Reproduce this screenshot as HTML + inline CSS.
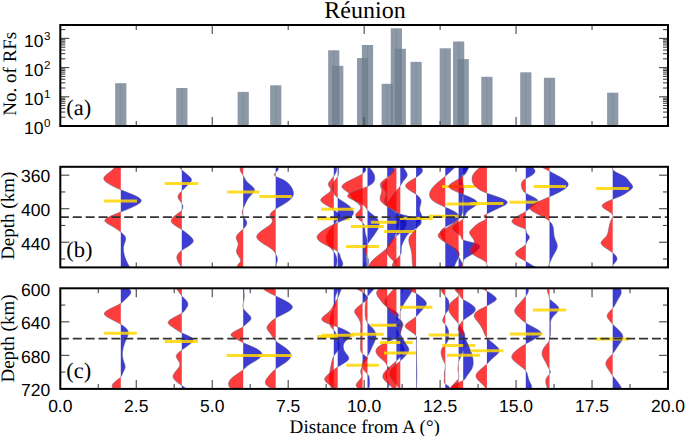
<!DOCTYPE html>
<html><head><meta charset="utf-8"><style>
html,body{margin:0;padding:0;background:#fff;width:685px;height:436px;overflow:hidden}
svg{display:block}
text{text-rendering:geometricPrecision}
</style></head><body>
<svg width="685" height="436" viewBox="0 0 685 436">
<rect x="115.17" y="83.20" width="11.20" height="42.80" fill="rgb(112,128,144)" fill-opacity="0.8"/>
<line x1="120.77" y1="83.20" x2="120.77" y2="126.00" stroke="rgb(112,128,144)" stroke-opacity="0.5" stroke-width="0.8"/>
<rect x="176.24" y="88.00" width="11.20" height="38.00" fill="rgb(112,128,144)" fill-opacity="0.8"/>
<line x1="181.84" y1="88.00" x2="181.84" y2="126.00" stroke="rgb(112,128,144)" stroke-opacity="0.5" stroke-width="0.8"/>
<rect x="237.62" y="91.90" width="11.20" height="34.10" fill="rgb(112,128,144)" fill-opacity="0.8"/>
<line x1="243.22" y1="91.90" x2="243.22" y2="126.00" stroke="rgb(112,128,144)" stroke-opacity="0.5" stroke-width="0.8"/>
<rect x="270.13" y="85.30" width="11.20" height="40.70" fill="rgb(112,128,144)" fill-opacity="0.8"/>
<line x1="275.73" y1="85.30" x2="275.73" y2="126.00" stroke="rgb(112,128,144)" stroke-opacity="0.5" stroke-width="0.8"/>
<rect x="328.17" y="50.30" width="11.20" height="75.70" fill="rgb(112,128,144)" fill-opacity="0.8"/>
<line x1="333.77" y1="50.30" x2="333.77" y2="126.00" stroke="rgb(112,128,144)" stroke-opacity="0.5" stroke-width="0.8"/>
<rect x="332.12" y="65.90" width="11.20" height="60.10" fill="rgb(112,128,144)" fill-opacity="0.8"/>
<line x1="337.72" y1="65.90" x2="337.72" y2="126.00" stroke="rgb(112,128,144)" stroke-opacity="0.5" stroke-width="0.8"/>
<rect x="357.03" y="58.10" width="11.20" height="67.90" fill="rgb(112,128,144)" fill-opacity="0.8"/>
<line x1="362.63" y1="58.10" x2="362.63" y2="126.00" stroke="rgb(112,128,144)" stroke-opacity="0.5" stroke-width="0.8"/>
<rect x="361.89" y="45.00" width="11.20" height="81.00" fill="rgb(112,128,144)" fill-opacity="0.8"/>
<line x1="367.49" y1="45.00" x2="367.49" y2="126.00" stroke="rgb(112,128,144)" stroke-opacity="0.5" stroke-width="0.8"/>
<rect x="381.64" y="83.80" width="11.20" height="42.20" fill="rgb(112,128,144)" fill-opacity="0.8"/>
<line x1="387.24" y1="83.80" x2="387.24" y2="126.00" stroke="rgb(112,128,144)" stroke-opacity="0.5" stroke-width="0.8"/>
<rect x="390.76" y="28.30" width="11.20" height="97.70" fill="rgb(112,128,144)" fill-opacity="0.8"/>
<line x1="396.36" y1="28.30" x2="396.36" y2="126.00" stroke="rgb(112,128,144)" stroke-opacity="0.5" stroke-width="0.8"/>
<rect x="394.71" y="48.80" width="11.20" height="77.20" fill="rgb(112,128,144)" fill-opacity="0.8"/>
<line x1="400.31" y1="48.80" x2="400.31" y2="126.00" stroke="rgb(112,128,144)" stroke-opacity="0.5" stroke-width="0.8"/>
<rect x="410.51" y="61.90" width="11.20" height="64.10" fill="rgb(112,128,144)" fill-opacity="0.8"/>
<line x1="416.11" y1="61.90" x2="416.11" y2="126.00" stroke="rgb(112,128,144)" stroke-opacity="0.5" stroke-width="0.8"/>
<rect x="439.68" y="48.30" width="11.20" height="77.70" fill="rgb(112,128,144)" fill-opacity="0.8"/>
<line x1="445.28" y1="48.30" x2="445.28" y2="126.00" stroke="rgb(112,128,144)" stroke-opacity="0.5" stroke-width="0.8"/>
<rect x="453.05" y="41.50" width="11.20" height="84.50" fill="rgb(112,128,144)" fill-opacity="0.8"/>
<line x1="458.65" y1="41.50" x2="458.65" y2="126.00" stroke="rgb(112,128,144)" stroke-opacity="0.5" stroke-width="0.8"/>
<rect x="457.61" y="59.10" width="11.20" height="66.90" fill="rgb(112,128,144)" fill-opacity="0.8"/>
<line x1="463.21" y1="59.10" x2="463.21" y2="126.00" stroke="rgb(112,128,144)" stroke-opacity="0.5" stroke-width="0.8"/>
<rect x="481.31" y="76.80" width="11.20" height="49.20" fill="rgb(112,128,144)" fill-opacity="0.8"/>
<line x1="486.91" y1="76.80" x2="486.91" y2="126.00" stroke="rgb(112,128,144)" stroke-opacity="0.5" stroke-width="0.8"/>
<rect x="520.20" y="72.30" width="11.20" height="53.70" fill="rgb(112,128,144)" fill-opacity="0.8"/>
<line x1="525.80" y1="72.30" x2="525.80" y2="126.00" stroke="rgb(112,128,144)" stroke-opacity="0.5" stroke-width="0.8"/>
<rect x="543.90" y="77.80" width="11.20" height="48.20" fill="rgb(112,128,144)" fill-opacity="0.8"/>
<line x1="549.50" y1="77.80" x2="549.50" y2="126.00" stroke="rgb(112,128,144)" stroke-opacity="0.5" stroke-width="0.8"/>
<rect x="607.10" y="92.70" width="11.20" height="33.30" fill="rgb(112,128,144)" fill-opacity="0.8"/>
<line x1="612.70" y1="92.70" x2="612.70" y2="126.00" stroke="rgb(112,128,144)" stroke-opacity="0.5" stroke-width="0.8"/>
<line x1="136.26" y1="25.00" x2="136.26" y2="30.00" stroke="#444" stroke-width="1.1"/>
<line x1="136.26" y1="121.00" x2="136.26" y2="126.00" stroke="#444" stroke-width="1.1"/>
<line x1="212.23" y1="25.00" x2="212.23" y2="34.00" stroke="#444" stroke-width="1.1"/>
<line x1="212.23" y1="117.00" x2="212.23" y2="126.00" stroke="#444" stroke-width="1.1"/>
<line x1="288.19" y1="25.00" x2="288.19" y2="30.00" stroke="#444" stroke-width="1.1"/>
<line x1="288.19" y1="121.00" x2="288.19" y2="126.00" stroke="#444" stroke-width="1.1"/>
<line x1="364.15" y1="25.00" x2="364.15" y2="34.00" stroke="#444" stroke-width="1.1"/>
<line x1="364.15" y1="117.00" x2="364.15" y2="126.00" stroke="#444" stroke-width="1.1"/>
<line x1="440.11" y1="25.00" x2="440.11" y2="30.00" stroke="#444" stroke-width="1.1"/>
<line x1="440.11" y1="121.00" x2="440.11" y2="126.00" stroke="#444" stroke-width="1.1"/>
<line x1="516.07" y1="25.00" x2="516.07" y2="34.00" stroke="#444" stroke-width="1.1"/>
<line x1="516.07" y1="117.00" x2="516.07" y2="126.00" stroke="#444" stroke-width="1.1"/>
<line x1="592.04" y1="25.00" x2="592.04" y2="30.00" stroke="#444" stroke-width="1.1"/>
<line x1="592.04" y1="121.00" x2="592.04" y2="126.00" stroke="#444" stroke-width="1.1"/>
<line x1="60.30" y1="126.00" x2="69.30" y2="126.00" stroke="#444" stroke-width="1.1"/>
<line x1="659.00" y1="126.00" x2="668.00" y2="126.00" stroke="#444" stroke-width="1.1"/>
<line x1="60.30" y1="117.21" x2="65.30" y2="117.21" stroke="#444" stroke-width="1.1"/>
<line x1="663.00" y1="117.21" x2="668.00" y2="117.21" stroke="#444" stroke-width="1.1"/>
<line x1="60.30" y1="112.07" x2="65.30" y2="112.07" stroke="#444" stroke-width="1.1"/>
<line x1="663.00" y1="112.07" x2="668.00" y2="112.07" stroke="#444" stroke-width="1.1"/>
<line x1="60.30" y1="108.42" x2="65.30" y2="108.42" stroke="#444" stroke-width="1.1"/>
<line x1="663.00" y1="108.42" x2="668.00" y2="108.42" stroke="#444" stroke-width="1.1"/>
<line x1="60.30" y1="105.59" x2="65.30" y2="105.59" stroke="#444" stroke-width="1.1"/>
<line x1="663.00" y1="105.59" x2="668.00" y2="105.59" stroke="#444" stroke-width="1.1"/>
<line x1="60.30" y1="103.28" x2="65.30" y2="103.28" stroke="#444" stroke-width="1.1"/>
<line x1="663.00" y1="103.28" x2="668.00" y2="103.28" stroke="#444" stroke-width="1.1"/>
<line x1="60.30" y1="101.32" x2="65.30" y2="101.32" stroke="#444" stroke-width="1.1"/>
<line x1="663.00" y1="101.32" x2="668.00" y2="101.32" stroke="#444" stroke-width="1.1"/>
<line x1="60.30" y1="99.63" x2="65.30" y2="99.63" stroke="#444" stroke-width="1.1"/>
<line x1="663.00" y1="99.63" x2="668.00" y2="99.63" stroke="#444" stroke-width="1.1"/>
<line x1="60.30" y1="98.14" x2="65.30" y2="98.14" stroke="#444" stroke-width="1.1"/>
<line x1="663.00" y1="98.14" x2="668.00" y2="98.14" stroke="#444" stroke-width="1.1"/>
<line x1="60.30" y1="96.80" x2="69.30" y2="96.80" stroke="#444" stroke-width="1.1"/>
<line x1="659.00" y1="96.80" x2="668.00" y2="96.80" stroke="#444" stroke-width="1.1"/>
<line x1="60.30" y1="88.01" x2="65.30" y2="88.01" stroke="#444" stroke-width="1.1"/>
<line x1="663.00" y1="88.01" x2="668.00" y2="88.01" stroke="#444" stroke-width="1.1"/>
<line x1="60.30" y1="82.87" x2="65.30" y2="82.87" stroke="#444" stroke-width="1.1"/>
<line x1="663.00" y1="82.87" x2="668.00" y2="82.87" stroke="#444" stroke-width="1.1"/>
<line x1="60.30" y1="79.22" x2="65.30" y2="79.22" stroke="#444" stroke-width="1.1"/>
<line x1="663.00" y1="79.22" x2="668.00" y2="79.22" stroke="#444" stroke-width="1.1"/>
<line x1="60.30" y1="76.39" x2="65.30" y2="76.39" stroke="#444" stroke-width="1.1"/>
<line x1="663.00" y1="76.39" x2="668.00" y2="76.39" stroke="#444" stroke-width="1.1"/>
<line x1="60.30" y1="74.08" x2="65.30" y2="74.08" stroke="#444" stroke-width="1.1"/>
<line x1="663.00" y1="74.08" x2="668.00" y2="74.08" stroke="#444" stroke-width="1.1"/>
<line x1="60.30" y1="72.12" x2="65.30" y2="72.12" stroke="#444" stroke-width="1.1"/>
<line x1="663.00" y1="72.12" x2="668.00" y2="72.12" stroke="#444" stroke-width="1.1"/>
<line x1="60.30" y1="70.43" x2="65.30" y2="70.43" stroke="#444" stroke-width="1.1"/>
<line x1="663.00" y1="70.43" x2="668.00" y2="70.43" stroke="#444" stroke-width="1.1"/>
<line x1="60.30" y1="68.94" x2="65.30" y2="68.94" stroke="#444" stroke-width="1.1"/>
<line x1="663.00" y1="68.94" x2="668.00" y2="68.94" stroke="#444" stroke-width="1.1"/>
<line x1="60.30" y1="67.60" x2="69.30" y2="67.60" stroke="#444" stroke-width="1.1"/>
<line x1="659.00" y1="67.60" x2="668.00" y2="67.60" stroke="#444" stroke-width="1.1"/>
<line x1="60.30" y1="58.81" x2="65.30" y2="58.81" stroke="#444" stroke-width="1.1"/>
<line x1="663.00" y1="58.81" x2="668.00" y2="58.81" stroke="#444" stroke-width="1.1"/>
<line x1="60.30" y1="53.67" x2="65.30" y2="53.67" stroke="#444" stroke-width="1.1"/>
<line x1="663.00" y1="53.67" x2="668.00" y2="53.67" stroke="#444" stroke-width="1.1"/>
<line x1="60.30" y1="50.02" x2="65.30" y2="50.02" stroke="#444" stroke-width="1.1"/>
<line x1="663.00" y1="50.02" x2="668.00" y2="50.02" stroke="#444" stroke-width="1.1"/>
<line x1="60.30" y1="47.19" x2="65.30" y2="47.19" stroke="#444" stroke-width="1.1"/>
<line x1="663.00" y1="47.19" x2="668.00" y2="47.19" stroke="#444" stroke-width="1.1"/>
<line x1="60.30" y1="44.88" x2="65.30" y2="44.88" stroke="#444" stroke-width="1.1"/>
<line x1="663.00" y1="44.88" x2="668.00" y2="44.88" stroke="#444" stroke-width="1.1"/>
<line x1="60.30" y1="42.92" x2="65.30" y2="42.92" stroke="#444" stroke-width="1.1"/>
<line x1="663.00" y1="42.92" x2="668.00" y2="42.92" stroke="#444" stroke-width="1.1"/>
<line x1="60.30" y1="41.23" x2="65.30" y2="41.23" stroke="#444" stroke-width="1.1"/>
<line x1="663.00" y1="41.23" x2="668.00" y2="41.23" stroke="#444" stroke-width="1.1"/>
<line x1="60.30" y1="39.74" x2="65.30" y2="39.74" stroke="#444" stroke-width="1.1"/>
<line x1="663.00" y1="39.74" x2="668.00" y2="39.74" stroke="#444" stroke-width="1.1"/>
<line x1="60.30" y1="38.40" x2="69.30" y2="38.40" stroke="#444" stroke-width="1.1"/>
<line x1="659.00" y1="38.40" x2="668.00" y2="38.40" stroke="#444" stroke-width="1.1"/>
<line x1="60.30" y1="29.61" x2="65.30" y2="29.61" stroke="#444" stroke-width="1.1"/>
<line x1="663.00" y1="29.61" x2="668.00" y2="29.61" stroke="#444" stroke-width="1.1"/>
<line x1="98.28" y1="288.30" x2="98.28" y2="293.30" stroke="#444" stroke-width="1.1"/>
<line x1="98.28" y1="383.90" x2="98.28" y2="388.90" stroke="#444" stroke-width="1.1"/>
<line x1="136.26" y1="166.80" x2="136.26" y2="171.80" stroke="#444" stroke-width="1.1"/>
<line x1="136.26" y1="262.40" x2="136.26" y2="267.40" stroke="#444" stroke-width="1.1"/>
<line x1="136.26" y1="288.30" x2="136.26" y2="297.30" stroke="#444" stroke-width="1.1"/>
<line x1="136.26" y1="379.90" x2="136.26" y2="388.90" stroke="#444" stroke-width="1.1"/>
<line x1="174.24" y1="288.30" x2="174.24" y2="293.30" stroke="#444" stroke-width="1.1"/>
<line x1="174.24" y1="383.90" x2="174.24" y2="388.90" stroke="#444" stroke-width="1.1"/>
<line x1="212.23" y1="166.80" x2="212.23" y2="171.80" stroke="#444" stroke-width="1.1"/>
<line x1="212.23" y1="262.40" x2="212.23" y2="267.40" stroke="#444" stroke-width="1.1"/>
<line x1="212.23" y1="288.30" x2="212.23" y2="297.30" stroke="#444" stroke-width="1.1"/>
<line x1="212.23" y1="379.90" x2="212.23" y2="388.90" stroke="#444" stroke-width="1.1"/>
<line x1="250.21" y1="288.30" x2="250.21" y2="293.30" stroke="#444" stroke-width="1.1"/>
<line x1="250.21" y1="383.90" x2="250.21" y2="388.90" stroke="#444" stroke-width="1.1"/>
<line x1="288.19" y1="166.80" x2="288.19" y2="171.80" stroke="#444" stroke-width="1.1"/>
<line x1="288.19" y1="262.40" x2="288.19" y2="267.40" stroke="#444" stroke-width="1.1"/>
<line x1="288.19" y1="288.30" x2="288.19" y2="297.30" stroke="#444" stroke-width="1.1"/>
<line x1="288.19" y1="379.90" x2="288.19" y2="388.90" stroke="#444" stroke-width="1.1"/>
<line x1="326.17" y1="288.30" x2="326.17" y2="293.30" stroke="#444" stroke-width="1.1"/>
<line x1="326.17" y1="383.90" x2="326.17" y2="388.90" stroke="#444" stroke-width="1.1"/>
<line x1="364.15" y1="166.80" x2="364.15" y2="171.80" stroke="#444" stroke-width="1.1"/>
<line x1="364.15" y1="262.40" x2="364.15" y2="267.40" stroke="#444" stroke-width="1.1"/>
<line x1="364.15" y1="288.30" x2="364.15" y2="297.30" stroke="#444" stroke-width="1.1"/>
<line x1="364.15" y1="379.90" x2="364.15" y2="388.90" stroke="#444" stroke-width="1.1"/>
<line x1="402.13" y1="288.30" x2="402.13" y2="293.30" stroke="#444" stroke-width="1.1"/>
<line x1="402.13" y1="383.90" x2="402.13" y2="388.90" stroke="#444" stroke-width="1.1"/>
<line x1="440.11" y1="166.80" x2="440.11" y2="171.80" stroke="#444" stroke-width="1.1"/>
<line x1="440.11" y1="262.40" x2="440.11" y2="267.40" stroke="#444" stroke-width="1.1"/>
<line x1="440.11" y1="288.30" x2="440.11" y2="297.30" stroke="#444" stroke-width="1.1"/>
<line x1="440.11" y1="379.90" x2="440.11" y2="388.90" stroke="#444" stroke-width="1.1"/>
<line x1="478.09" y1="288.30" x2="478.09" y2="293.30" stroke="#444" stroke-width="1.1"/>
<line x1="478.09" y1="383.90" x2="478.09" y2="388.90" stroke="#444" stroke-width="1.1"/>
<line x1="516.07" y1="166.80" x2="516.07" y2="171.80" stroke="#444" stroke-width="1.1"/>
<line x1="516.07" y1="262.40" x2="516.07" y2="267.40" stroke="#444" stroke-width="1.1"/>
<line x1="516.07" y1="288.30" x2="516.07" y2="297.30" stroke="#444" stroke-width="1.1"/>
<line x1="516.07" y1="379.90" x2="516.07" y2="388.90" stroke="#444" stroke-width="1.1"/>
<line x1="554.06" y1="288.30" x2="554.06" y2="293.30" stroke="#444" stroke-width="1.1"/>
<line x1="554.06" y1="383.90" x2="554.06" y2="388.90" stroke="#444" stroke-width="1.1"/>
<line x1="592.04" y1="166.80" x2="592.04" y2="171.80" stroke="#444" stroke-width="1.1"/>
<line x1="592.04" y1="262.40" x2="592.04" y2="267.40" stroke="#444" stroke-width="1.1"/>
<line x1="592.04" y1="288.30" x2="592.04" y2="297.30" stroke="#444" stroke-width="1.1"/>
<line x1="592.04" y1="379.90" x2="592.04" y2="388.90" stroke="#444" stroke-width="1.1"/>
<line x1="630.02" y1="288.30" x2="630.02" y2="293.30" stroke="#444" stroke-width="1.1"/>
<line x1="630.02" y1="383.90" x2="630.02" y2="388.90" stroke="#444" stroke-width="1.1"/>
<line x1="60.30" y1="175.18" x2="69.30" y2="175.18" stroke="#444" stroke-width="1.1"/>
<line x1="659.00" y1="175.18" x2="668.00" y2="175.18" stroke="#444" stroke-width="1.1"/>
<line x1="60.30" y1="191.95" x2="65.30" y2="191.95" stroke="#444" stroke-width="1.1"/>
<line x1="663.00" y1="191.95" x2="668.00" y2="191.95" stroke="#444" stroke-width="1.1"/>
<line x1="60.30" y1="208.72" x2="69.30" y2="208.72" stroke="#444" stroke-width="1.1"/>
<line x1="659.00" y1="208.72" x2="668.00" y2="208.72" stroke="#444" stroke-width="1.1"/>
<line x1="60.30" y1="225.48" x2="65.30" y2="225.48" stroke="#444" stroke-width="1.1"/>
<line x1="663.00" y1="225.48" x2="668.00" y2="225.48" stroke="#444" stroke-width="1.1"/>
<line x1="60.30" y1="242.25" x2="69.30" y2="242.25" stroke="#444" stroke-width="1.1"/>
<line x1="659.00" y1="242.25" x2="668.00" y2="242.25" stroke="#444" stroke-width="1.1"/>
<line x1="60.30" y1="259.02" x2="65.30" y2="259.02" stroke="#444" stroke-width="1.1"/>
<line x1="663.00" y1="259.02" x2="668.00" y2="259.02" stroke="#444" stroke-width="1.1"/>
<line x1="60.30" y1="305.07" x2="65.30" y2="305.07" stroke="#444" stroke-width="1.1"/>
<line x1="663.00" y1="305.07" x2="668.00" y2="305.07" stroke="#444" stroke-width="1.1"/>
<line x1="60.30" y1="321.83" x2="69.30" y2="321.83" stroke="#444" stroke-width="1.1"/>
<line x1="659.00" y1="321.83" x2="668.00" y2="321.83" stroke="#444" stroke-width="1.1"/>
<line x1="60.30" y1="338.60" x2="65.30" y2="338.60" stroke="#444" stroke-width="1.1"/>
<line x1="663.00" y1="338.60" x2="668.00" y2="338.60" stroke="#444" stroke-width="1.1"/>
<line x1="60.30" y1="355.37" x2="69.30" y2="355.37" stroke="#444" stroke-width="1.1"/>
<line x1="659.00" y1="355.37" x2="668.00" y2="355.37" stroke="#444" stroke-width="1.1"/>
<line x1="60.30" y1="372.13" x2="65.30" y2="372.13" stroke="#444" stroke-width="1.1"/>
<line x1="663.00" y1="372.13" x2="668.00" y2="372.13" stroke="#444" stroke-width="1.1"/>
<polygon points="120.8,166.8 114.8,166.8 114.1,168.1 112.8,169.6 111.3,170.8 106.8,174.3 105.2,175.8 104.5,176.6 104.1,177.3 103.8,178.1 103.7,178.6 103.9,179.6 104.5,180.6 105.8,181.8 107.5,183.1 110.0,184.6 113.7,186.6 117.3,188.3 120.8,189.8 120.8,211.8 120.6,212.1 112.4,215.3 108.1,217.3 106.4,218.3 105.5,219.1 105.0,219.8 104.8,220.6 104.9,221.1 105.3,221.8 106.7,223.1 108.3,224.1 112.7,226.6 115.6,228.3 118.5,230.3 120.8,232.1 120.8,267.4" fill="rgb(255,0,0)" fill-opacity="0.76"/>
<polygon points="120.8,166.8 120.8,189.8 132.1,194.3 135.0,195.6 137.0,196.6 139.1,197.8 140.3,198.8 141.1,199.8 141.2,200.3 141.3,200.8 141.1,201.6 140.3,202.6 139.1,203.6 137.1,204.8 134.2,206.3 130.4,208.1 120.8,212.1 120.8,231.8 120.8,232.1 123.1,234.1 124.7,235.8 125.5,237.3 125.7,238.6 125.7,239.3 125.6,240.3 124.1,244.6 123.6,246.8 123.5,249.6 123.8,252.6 124.5,255.8 125.8,259.3 127.5,263.1 129.8,267.4 120.8,267.4" fill="rgb(12,12,200)" fill-opacity="0.8"/>
<polyline points="114.8,166.8 114.1,168.1 112.8,169.6 111.3,170.8 106.5,174.6 105.4,175.6 104.5,176.6 104.0,177.6 103.7,178.6 103.9,179.6 104.5,180.6 105.8,181.8 107.9,183.3 110.9,185.1 114.7,187.1 120.8,189.8 132.7,194.6 137.0,196.6 138.7,197.6 140.0,198.6 140.9,199.6 141.2,200.1 141.3,200.6 141.3,201.1 141.1,201.6 140.3,202.6 138.7,203.8 136.6,205.1 132.6,207.1 128.1,209.1 113.6,214.8 109.6,216.6 107.6,217.6 106.1,218.6 105.1,219.6 104.8,220.3 104.8,220.8 105.0,221.3 105.3,221.8 106.1,222.6 108.3,224.1 114.8,227.8 118.9,230.6 121.4,232.6 123.1,234.1 124.3,235.3 125.2,236.6 125.6,237.8 125.7,238.6 125.7,239.3 125.3,241.1 124.1,244.6 123.7,246.6 123.5,249.3 123.7,252.1 124.4,255.3 125.6,258.8 127.3,262.8 129.8,267.4" fill="none" stroke="rgb(90,90,120)" stroke-width="0.6" stroke-opacity="0.8"/>
<line x1="103.90" y1="200.90" x2="137.00" y2="200.90" stroke="rgb(255,215,0)" stroke-opacity="0.85" stroke-width="3"/>
<polygon points="181.8,166.8 181.3,166.8 181.0,167.1 180.5,167.6 180.3,168.1 180.6,168.8 181.8,170.1 181.8,190.8 179.9,192.8 178.8,194.3 178.2,195.6 177.9,196.8 178.1,197.8 178.7,199.1 181.2,202.6 181.8,203.6 181.8,210.1 181.2,210.8 180.1,211.8 175.1,215.6 173.1,217.3 172.2,218.3 171.7,219.1 171.3,220.1 171.2,220.8 171.3,221.6 171.8,222.6 172.4,223.3 173.5,224.3 175.9,226.1 181.6,229.6 181.8,229.8 181.8,250.3 179.7,252.1 178.7,253.1 178.0,254.1 177.5,254.8 177.1,255.8 176.9,256.8 176.8,257.8 177.1,259.6 177.9,261.6 179.3,263.8 181.8,267.4" fill="rgb(255,0,0)" fill-opacity="0.76"/>
<polygon points="181.8,166.8 181.9,170.1 187.9,175.1 189.8,176.8 191.0,178.3 191.4,179.1 191.5,179.8 191.5,180.6 191.2,181.3 190.1,182.8 181.8,190.8 181.8,203.3 181.9,203.6 182.6,205.3 182.9,206.8 182.8,207.8 182.6,208.6 181.8,210.1 181.8,229.6 182.0,229.8 184.5,231.6 186.8,233.3 190.8,236.8 192.0,238.1 192.7,239.1 193.2,240.1 193.3,240.8 193.2,241.6 192.7,242.6 191.9,243.6 190.8,244.6 188.4,246.3 181.8,250.3 181.8,267.4" fill="rgb(12,12,200)" fill-opacity="0.8"/>
<polyline points="181.3,166.8 180.7,167.3 180.4,167.8 180.4,168.3 180.6,168.8 181.6,169.8 188.2,175.3 190.1,177.1 190.9,178.1 191.3,178.8 191.5,179.6 191.5,180.3 191.4,180.8 191.0,181.6 190.1,182.8 180.6,192.1 179.3,193.6 178.4,195.1 178.1,195.8 177.9,196.6 178.1,197.8 178.8,199.3 181.4,202.8 182.4,204.6 182.7,205.6 182.9,206.6 182.8,207.6 182.7,208.3 182.4,209.1 182.0,209.8 180.9,211.1 179.1,212.6 174.5,216.1 172.7,217.8 171.9,218.8 171.5,219.6 171.2,220.6 171.3,221.3 171.5,222.1 172.0,222.8 172.7,223.6 173.8,224.6 175.9,226.1 181.6,229.6 183.8,231.1 186.5,233.1 189.8,235.8 191.3,237.3 192.4,238.6 193.1,239.8 193.3,240.8 193.2,241.6 192.9,242.3 192.4,243.1 191.4,244.1 189.1,245.8 183.0,249.6 180.8,251.1 179.7,252.1 178.7,253.1 178.0,254.1 177.3,255.3 176.9,256.6 176.8,257.8 177.0,259.1 177.4,260.3 177.9,261.6 178.8,263.1 181.8,267.4" fill="none" stroke="rgb(90,90,120)" stroke-width="0.6" stroke-opacity="0.8"/>
<line x1="164.70" y1="183.50" x2="198.30" y2="183.50" stroke="rgb(255,215,0)" stroke-opacity="0.85" stroke-width="3"/>
<polygon points="243.2,166.8 241.2,166.8 240.8,167.3 240.3,168.1 240.1,168.6 240.0,169.3 240.1,170.3 240.6,171.6 243.2,175.6 243.2,208.3 242.4,210.8 242.2,212.6 242.3,213.3 242.5,214.3 243.2,216.1 243.2,228.8 243.2,229.1 239.3,232.6 237.6,234.3 236.9,235.3 236.5,236.1 236.3,236.8 236.2,237.6 236.2,238.3 236.5,239.3 238.0,242.8 238.2,244.3 238.2,245.1 237.9,246.1 236.5,250.1 236.4,251.1 236.5,252.1 236.8,253.1 237.2,254.1 239.5,257.6 240.1,258.8 240.5,259.8 240.6,260.6 240.5,261.3 240.2,262.1 237.7,265.1 237.4,265.8 237.4,266.3 237.6,266.8 238.2,267.4 243.2,267.4" fill="rgb(255,0,0)" fill-opacity="0.76"/>
<polygon points="243.2,166.8 243.2,175.6 245.4,179.6 246.4,181.1 248.0,182.8 251.8,186.1 253.4,187.6 253.9,188.3 254.4,189.1 254.6,189.8 254.6,190.3 254.4,191.3 253.6,192.6 249.7,196.6 248.7,197.8 247.7,199.3 246.7,201.1 245.5,203.6 243.2,208.6 243.2,216.1 246.2,220.6 246.7,221.8 246.9,223.1 246.6,224.3 245.9,225.8 244.8,227.3 243.2,229.1 243.2,267.4" fill="rgb(12,12,200)" fill-opacity="0.8"/>
<polyline points="241.2,166.8 240.4,167.8 240.2,168.3 240.0,169.1 240.1,170.3 240.7,171.8 243.2,175.6 245.4,179.6 246.4,181.1 248.0,182.8 251.8,186.1 253.4,187.6 253.9,188.3 254.4,189.1 254.6,189.8 254.6,190.3 254.4,191.3 253.8,192.3 252.9,193.3 249.5,196.8 248.3,198.3 247.4,199.8 246.2,202.1 244.2,206.3 243.0,209.1 242.4,210.8 242.3,211.8 242.2,212.8 242.4,213.8 242.7,214.8 243.5,216.6 246.0,220.3 246.7,221.8 246.8,222.6 246.8,223.3 246.7,224.1 246.5,224.8 245.6,226.3 244.2,228.1 239.3,232.6 237.8,234.1 236.8,235.6 236.3,236.8 236.2,237.8 236.4,238.8 237.9,242.6 238.2,243.6 238.2,244.3 238.2,245.1 237.9,246.1 236.5,250.1 236.4,251.1 236.5,252.1 236.8,253.1 237.2,254.1 240.0,258.6 240.4,259.6 240.6,260.3 240.5,261.3 240.2,262.1 239.6,262.8 238.0,264.6 237.5,265.6 237.4,266.1 237.5,266.6 237.8,267.1 238.2,267.4" fill="none" stroke="rgb(90,90,120)" stroke-width="0.6" stroke-opacity="0.8"/>
<line x1="227.20" y1="192.00" x2="259.30" y2="192.00" stroke="rgb(255,215,0)" stroke-opacity="0.85" stroke-width="3"/>
<polygon points="275.7,166.8 275.7,172.3 275.7,172.6 274.6,173.8 274.4,174.3 274.3,174.8 274.6,175.6 275.1,176.1 275.7,176.6 275.7,208.8 275.7,209.1 273.2,210.8 271.5,212.3 270.9,213.1 270.5,213.8 270.2,214.6 270.1,215.1 270.2,215.8 270.5,216.6 271.8,219.1 272.2,220.1 272.4,221.1 272.3,221.8 272.0,222.6 271.5,223.3 270.9,224.1 269.8,225.1 267.5,226.8 261.6,230.8 258.9,233.1 257.9,234.1 257.2,235.1 256.8,236.1 256.7,236.8 256.9,237.8 257.4,238.8 258.2,239.8 259.2,240.8 262.3,243.1 269.1,247.3 271.6,249.1 273.5,250.8 275.0,252.8 275.7,254.1 275.7,267.4" fill="rgb(255,0,0)" fill-opacity="0.76"/>
<polygon points="275.7,166.8 276.0,166.8 276.6,167.1 277.7,167.8 278.1,168.3 278.4,169.1 278.3,169.6 277.9,170.3 275.7,172.6 275.7,176.3 275.8,176.6 277.4,177.3 281.8,179.1 283.8,180.1 286.2,181.6 288.0,183.1 289.2,184.3 290.2,185.6 291.1,186.8 292.0,188.3 292.7,189.8 293.1,191.1 293.4,192.3 293.5,193.6 293.4,194.6 293.2,195.3 292.5,196.8 291.4,198.3 289.7,200.1 287.8,201.6 285.6,203.1 277.2,208.1 275.7,209.1 275.7,253.8 275.8,254.1 276.5,255.6 277.1,257.1 277.4,258.3 277.5,259.3 277.3,260.8 276.4,263.8 276.2,265.1 276.3,266.3 276.7,267.4 275.7,267.4" fill="rgb(12,12,200)" fill-opacity="0.8"/>
<polyline points="276.0,166.8 277.0,167.3 278.0,168.1 278.3,168.6 278.3,169.3 278.2,169.8 277.7,170.6 275.4,172.8 274.6,173.8 274.4,174.3 274.3,174.8 274.6,175.6 275.4,176.3 276.3,176.8 281.8,179.1 284.3,180.3 286.5,181.8 288.7,183.8 290.0,185.3 291.1,186.8 292.0,188.3 292.7,189.8 293.2,191.3 293.4,192.6 293.4,193.8 293.2,195.1 292.8,196.3 291.8,197.8 290.5,199.3 288.8,200.8 287.1,202.1 284.8,203.6 277.2,208.1 274.9,209.6 272.9,211.1 271.3,212.6 270.7,213.3 270.3,214.1 270.1,214.8 270.1,215.3 270.5,216.6 271.9,219.3 272.3,220.3 272.4,221.1 272.4,221.6 272.2,222.1 271.9,222.8 270.9,224.1 269.2,225.6 261.6,230.8 259.1,232.8 258.2,233.8 257.4,234.8 256.9,235.8 256.7,236.8 256.9,237.8 257.4,238.8 258.2,239.8 259.2,240.8 262.3,243.1 268.7,247.1 271.3,248.8 273.3,250.6 274.2,251.6 274.9,252.6 275.8,254.1 276.6,255.8 277.2,257.3 277.4,258.6 277.5,259.6 277.3,260.6 276.4,263.8 276.2,265.1 276.3,266.3 276.7,267.4" fill="none" stroke="rgb(90,90,120)" stroke-width="0.6" stroke-opacity="0.8"/>
<line x1="259.40" y1="196.40" x2="291.80" y2="196.40" stroke="rgb(255,215,0)" stroke-opacity="0.85" stroke-width="3"/>
<polygon points="333.8,166.8 333.8,176.1 333.7,176.3 329.1,182.1 328.5,183.1 328.3,184.1 328.3,184.8 328.5,185.6 330.1,188.1 330.6,189.1 330.8,189.8 330.6,190.6 330.0,191.6 328.8,192.8 323.6,196.6 322.0,197.8 321.0,199.1 320.8,199.6 320.7,200.1 320.8,200.6 321.1,201.3 321.8,202.1 322.7,202.8 324.5,204.1 329.0,206.8 333.8,210.1 333.7,225.1 330.0,229.6 328.9,231.1 327.9,232.6 327.2,234.1 326.6,235.6 326.3,237.1 326.2,238.6 326.2,240.1 326.5,241.3 327.0,242.8 327.7,244.1 329.2,246.3 333.7,251.6 333.8,267.4" fill="rgb(255,0,0)" fill-opacity="0.76"/>
<polygon points="333.8,166.8 336.8,166.8 336.9,168.3 336.8,170.1 336.2,171.8 335.3,173.8 333.8,176.3 333.8,209.8 333.8,210.1 336.8,212.1 338.7,213.6 339.4,214.3 339.7,214.8 339.9,215.3 340.0,216.1 339.7,217.1 339.1,218.3 333.8,225.1 333.8,251.6 335.2,253.8 336.2,256.1 336.8,258.3 337.1,260.8 337.0,262.3 336.7,264.1 336.3,265.8 335.8,267.4 333.8,267.4" fill="rgb(12,12,200)" fill-opacity="0.8"/>
<polyline points="336.8,166.8 336.9,168.3 336.8,169.8 336.4,171.3 335.7,173.1 334.7,174.8 333.5,176.6 329.1,182.1 328.7,182.8 328.4,183.6 328.2,184.6 328.4,185.3 329.0,186.3 330.3,188.3 330.6,189.1 330.8,190.1 330.5,190.8 329.8,191.8 328.8,192.8 323.6,196.6 322.0,197.8 321.0,199.1 320.8,199.6 320.7,200.1 320.8,200.6 321.1,201.3 322.4,202.6 324.1,203.8 329.4,207.1 337.2,212.3 338.9,213.8 339.5,214.6 339.9,215.3 340.0,216.1 339.8,216.8 339.5,217.6 338.9,218.6 334.5,224.1 330.2,229.3 328.2,232.1 327.4,233.6 326.8,235.1 326.4,236.6 326.2,237.8 326.2,239.3 326.4,240.8 326.8,242.3 327.5,243.8 329.0,246.1 332.9,250.6 334.3,252.3 335.5,254.3 336.4,256.6 336.9,259.1 337.0,260.3 337.0,261.8 336.6,264.6 335.8,267.4" fill="none" stroke="rgb(90,90,120)" stroke-width="0.6" stroke-opacity="0.8"/>
<line x1="317.20" y1="218.70" x2="350.20" y2="218.70" stroke="rgb(255,215,0)" stroke-opacity="0.85" stroke-width="3"/>
<polygon points="337.7,166.8 337.7,176.6 336.7,178.1 334.2,181.3 333.3,182.8 332.8,183.8 332.4,185.1 332.2,186.1 332.2,187.3 332.3,188.8 332.6,190.3 333.1,191.8 333.8,193.3 334.5,194.6 335.5,195.8 336.4,196.8 337.7,198.1 337.7,222.6 332.9,224.8 329.0,226.8 325.6,228.8 322.2,231.1 319.9,232.8 318.4,234.3 317.4,235.8 317.1,236.6 317.0,237.3 317.2,238.3 317.9,239.6 319.0,240.8 320.6,242.1 322.6,243.3 324.8,244.6 334.3,249.3 336.3,250.6 337.7,251.6 337.7,267.4" fill="rgb(255,0,0)" fill-opacity="0.76"/>
<polygon points="337.7,166.8 338.9,166.8 338.7,168.6 338.7,172.1 338.6,173.6 338.3,175.1 337.7,176.6 337.7,197.8 337.8,198.1 340.2,199.8 346.8,204.1 348.4,205.3 349.9,206.6 351.3,208.1 352.6,209.8 353.3,211.3 353.5,212.1 353.6,212.8 353.4,213.8 352.9,214.8 352.0,215.8 350.6,216.8 347.3,218.6 337.8,222.6 337.7,222.8 337.7,251.6 338.8,252.8 339.6,254.3 340.7,258.1 342.5,262.1 342.8,263.1 342.9,263.8 342.7,264.8 342.3,265.8 341.7,266.6 340.7,267.4 337.7,267.4" fill="rgb(12,12,200)" fill-opacity="0.8"/>
<polyline points="338.9,166.8 338.7,168.6 338.7,173.1 338.5,174.3 338.1,175.6 337.7,176.6 337.1,177.6 333.7,182.1 333.0,183.3 332.5,184.8 332.2,186.1 332.2,187.6 332.3,189.1 332.7,190.6 333.3,192.3 334.2,194.1 335.3,195.6 336.6,197.1 337.8,198.1 339.5,199.3 345.3,203.1 347.5,204.6 349.3,206.1 351.1,207.8 352.4,209.6 353.2,211.1 353.5,211.8 353.6,212.6 353.4,213.8 352.9,214.8 352.0,215.8 351.0,216.6 349.3,217.6 345.6,219.3 337.3,222.8 333.4,224.6 328.6,227.1 324.4,229.6 321.2,231.8 318.9,233.8 318.0,234.8 317.5,235.6 317.1,236.6 317.0,237.3 317.2,238.3 317.9,239.6 319.0,240.8 320.6,242.1 322.2,243.1 324.4,244.3 332.4,248.3 334.7,249.6 337.0,251.1 337.9,251.8 338.6,252.6 339.2,253.3 339.6,254.3 340.7,258.1 342.3,261.6 342.7,262.6 342.8,263.3 342.8,264.6 342.4,265.6 341.7,266.6 340.7,267.4" fill="none" stroke="rgb(90,90,120)" stroke-width="0.6" stroke-opacity="0.8"/>
<line x1="321.30" y1="209.20" x2="354.30" y2="209.20" stroke="rgb(255,215,0)" stroke-opacity="0.85" stroke-width="3"/>
<polygon points="362.6,166.8 362.6,173.6 362.5,173.8 360.5,175.1 358.2,176.3 348.5,181.1 345.3,182.8 343.9,183.8 342.8,184.8 342.1,185.8 341.9,186.6 342.0,187.3 342.7,188.3 344.0,189.6 347.5,192.1 348.9,193.3 349.9,194.6 351.6,197.6 352.5,198.8 354.0,200.3 357.6,203.1 359.0,204.3 360.0,205.6 360.5,206.6 360.6,207.8 360.4,208.6 360.1,209.3 359.2,210.6 356.3,213.6 355.7,214.6 355.6,215.3 355.9,216.3 356.8,217.6 358.1,218.8 361.8,221.8 362.6,222.6 362.6,222.8 362.6,267.4" fill="rgb(255,0,0)" fill-opacity="0.76"/>
<polygon points="362.6,166.8 364.1,166.8 364.5,167.1 365.0,167.6 365.6,168.3 365.8,168.8 365.9,169.6 365.7,170.6 365.1,171.6 364.1,172.6 362.6,173.8 362.6,222.6 363.9,224.3 364.4,225.3 364.7,226.3 364.9,227.8 365.0,231.1 365.2,232.6 365.5,234.1 366.8,238.8 367.0,240.1 367.1,241.6 367.0,243.8 366.2,249.1 366.1,251.6 366.2,254.8 366.8,262.8 366.8,265.3 366.6,267.4 362.6,267.4" fill="rgb(12,12,200)" fill-opacity="0.8"/>
<polyline points="364.1,166.8 364.7,167.3 365.4,168.1 365.8,168.8 365.9,169.6 365.8,170.3 365.4,171.1 364.9,171.8 364.1,172.6 362.1,174.1 359.6,175.6 356.2,177.3 348.5,181.1 344.9,183.1 343.6,184.1 342.5,185.1 342.0,186.1 341.9,186.8 342.0,187.3 342.3,187.8 343.1,188.8 344.4,189.8 347.8,192.3 348.9,193.3 349.9,194.6 351.6,197.6 352.5,198.8 354.0,200.3 357.6,203.1 359.0,204.3 360.0,205.6 360.5,206.6 360.6,207.8 360.4,208.6 360.1,209.3 359.2,210.6 356.3,213.6 355.7,214.6 355.6,215.1 355.6,215.6 356.0,216.6 357.0,217.8 358.4,219.1 361.8,221.8 363.0,223.1 363.6,223.8 364.2,224.8 364.7,226.6 364.9,228.1 365.0,231.1 365.2,232.6 365.6,234.3 366.8,238.6 367.0,239.8 367.1,241.1 367.0,243.6 366.2,249.1 366.1,251.6 366.2,254.8 366.8,262.8 366.8,265.3 366.6,267.4" fill="none" stroke="rgb(90,90,120)" stroke-width="0.6" stroke-opacity="0.8"/>
<line x1="346.00" y1="246.60" x2="379.00" y2="246.60" stroke="rgb(255,215,0)" stroke-opacity="0.85" stroke-width="3"/>
<polygon points="367.5,166.8 367.5,186.3 367.4,186.6 363.7,188.1 354.7,191.3 351.1,192.8 349.3,193.8 348.2,194.6 347.6,195.3 347.5,196.1 347.6,196.6 348.0,197.1 348.6,197.6 349.7,198.3 351.7,199.3 359.4,202.8 361.7,204.1 363.3,205.1 364.3,205.8 365.3,206.8 367.5,210.1 367.5,243.8 367.5,244.1 366.0,246.1 365.1,247.6 364.6,248.8 364.5,250.1 364.6,251.1 365.1,252.3 367.2,256.1 367.5,256.8 367.5,267.4" fill="rgb(255,0,0)" fill-opacity="0.76"/>
<polygon points="367.5,166.8 368.5,166.8 370.9,169.3 372.6,171.6 373.6,173.3 374.3,174.8 374.7,176.6 374.8,178.1 374.7,179.3 374.4,180.6 373.8,181.8 373.0,182.8 372.0,183.8 371.0,184.6 369.8,185.3 367.5,186.6 367.5,210.1 369.2,211.8 375.0,216.6 377.0,218.6 377.9,219.8 378.6,221.3 379.0,222.6 379.1,224.1 379.0,225.6 378.6,227.3 377.9,229.1 376.8,231.1 374.2,235.1 367.5,244.1 367.5,256.6 368.3,259.1 368.5,260.3 368.5,261.6 368.2,264.3 367.5,267.4" fill="rgb(12,12,200)" fill-opacity="0.8"/>
<polyline points="368.5,166.8 370.5,168.8 372.1,170.8 373.4,172.8 374.3,174.8 374.7,176.8 374.8,178.8 374.4,180.6 373.6,182.1 372.8,183.1 371.7,184.1 370.2,185.1 368.9,185.8 365.0,187.6 354.7,191.3 351.1,192.8 349.7,193.6 348.5,194.3 347.8,195.1 347.5,195.8 347.5,196.3 348.0,197.1 348.6,197.6 349.7,198.3 351.7,199.3 359.9,203.1 362.5,204.6 364.3,205.8 365.5,207.1 367.3,209.8 368.4,211.1 370.4,212.8 374.7,216.3 376.5,218.1 377.4,219.1 378.0,220.1 378.5,221.1 378.9,222.1 379.1,223.8 379.0,225.8 378.4,227.8 377.4,230.1 376.2,232.1 374.5,234.6 366.2,245.8 365.3,247.3 364.6,248.8 364.5,250.1 364.8,251.6 365.5,253.1 367.5,256.8 368.0,258.1 368.4,259.6 368.5,261.3 368.4,263.1 368.1,265.1 367.5,267.4" fill="none" stroke="rgb(90,90,120)" stroke-width="0.6" stroke-opacity="0.8"/>
<line x1="350.80" y1="226.60" x2="383.80" y2="226.60" stroke="rgb(255,215,0)" stroke-opacity="0.85" stroke-width="3"/>
<polygon points="387.2,166.8 387.2,177.3 387.2,177.6 384.0,179.8 382.2,181.3 380.9,182.8 380.5,183.6 380.4,184.1 380.3,184.8 380.4,185.8 381.6,189.3 381.8,190.8 381.6,192.3 380.3,196.6 380.1,198.3 380.2,199.3 380.5,200.3 380.8,201.1 381.6,202.1 383.4,203.8 385.0,205.1 387.2,206.6 387.2,206.8 387.2,247.8 387.2,248.1 385.5,249.6 376.6,256.6 374.5,258.3 372.7,260.1 371.0,262.1 369.7,263.8 368.8,265.6 368.2,267.4 387.2,267.4" fill="rgb(255,0,0)" fill-opacity="0.76"/>
<polygon points="387.2,166.8 392.2,166.8 393.2,167.6 393.9,168.3 394.3,169.1 394.4,170.1 394.3,170.8 394.0,171.6 393.5,172.3 392.7,173.3 390.7,175.1 387.2,177.6 387.2,206.6 393.7,210.8 395.6,212.3 396.8,213.6 397.9,215.1 398.7,216.8 399.1,218.6 399.3,220.6 399.2,222.1 399.0,223.6 398.2,226.8 396.3,232.8 394.7,237.1 393.1,240.3 391.4,243.1 389.6,245.6 387.2,248.1 387.2,267.4" fill="rgb(12,12,200)" fill-opacity="0.8"/>
<polyline points="392.2,166.8 392.9,167.3 393.7,168.1 394.0,168.6 394.3,169.3 394.4,169.8 394.4,170.6 394.1,171.3 393.7,172.1 392.7,173.3 391.0,174.8 384.7,179.3 382.7,180.8 381.3,182.3 380.5,183.6 380.3,184.6 380.4,185.6 380.6,186.6 381.6,189.3 381.8,190.8 381.5,192.6 380.2,197.1 380.1,198.1 380.1,199.1 380.5,200.3 381.0,201.3 381.8,202.3 383.1,203.6 386.0,205.8 391.9,209.6 394.0,211.1 395.9,212.6 397.4,214.3 398.0,215.3 398.6,216.6 399.0,217.8 399.2,219.1 399.3,220.6 399.2,222.1 398.6,225.3 398.0,227.6 397.0,230.8 395.0,236.3 393.1,240.3 392.1,242.1 390.9,243.8 388.9,246.3 386.6,248.6 384.0,250.8 376.6,256.6 374.5,258.3 372.7,260.1 371.0,262.1 369.7,263.8 368.8,265.6 368.2,267.4" fill="none" stroke="rgb(90,90,120)" stroke-width="0.6" stroke-opacity="0.8"/>
<line x1="370.90" y1="222.30" x2="403.90" y2="222.30" stroke="rgb(255,215,0)" stroke-opacity="0.85" stroke-width="3"/>
<polygon points="396.4,166.8 393.9,169.8 389.9,175.6 388.2,177.8 383.4,183.3 382.7,184.6 382.4,185.3 382.4,185.8 382.4,186.6 382.8,187.6 383.5,188.6 385.7,191.6 386.2,192.6 386.4,193.3 386.4,194.3 386.2,195.3 384.7,198.8 384.3,200.1 384.3,200.8 384.3,201.6 384.5,202.3 385.0,203.3 385.4,204.1 386.2,205.1 387.2,206.1 388.4,207.1 391.0,208.8 396.4,212.1 396.4,235.8 396.3,236.1 394.3,237.8 392.3,239.8 390.8,241.6 389.3,243.6 388.0,245.6 387.1,247.6 386.6,249.3 386.5,250.8 386.6,252.1 386.9,253.1 387.3,254.1 388.1,255.3 390.0,257.6 394.6,262.3 395.9,264.1 396.4,265.1 396.4,267.4" fill="rgb(255,0,0)" fill-opacity="0.76"/>
<polygon points="396.4,166.8 396.4,211.8 396.4,212.1 399.2,213.8 401.7,215.6 403.2,216.8 404.2,217.8 405.2,219.1 405.8,220.3 406.2,221.6 406.4,223.1 406.3,224.6 405.8,226.3 405.0,227.8 404.0,229.3 402.6,230.8 401.3,232.1 396.4,236.1 396.4,264.8 396.6,266.3 396.4,267.4" fill="rgb(12,12,200)" fill-opacity="0.8"/>
<polyline points="396.4,166.8 393.9,169.8 389.9,175.6 388.2,177.8 383.4,183.3 382.7,184.6 382.4,185.3 382.4,185.8 382.4,186.6 382.8,187.6 383.5,188.6 385.7,191.6 386.2,192.6 386.4,193.3 386.4,194.3 386.2,195.3 384.7,198.8 384.3,200.3 384.3,201.1 384.5,202.1 384.8,203.1 385.4,204.1 386.9,205.8 389.1,207.6 391.4,209.1 398.8,213.6 401.0,215.1 402.6,216.3 404.2,217.8 405.2,219.1 405.8,220.3 406.3,221.8 406.4,223.6 406.1,225.3 405.4,227.1 404.3,228.8 403.1,230.3 401.9,231.6 395.1,237.1 393.2,238.8 391.6,240.6 389.8,242.8 388.3,245.1 387.3,247.1 386.6,249.1 386.5,250.3 386.5,251.6 386.8,252.8 387.3,254.1 388.1,255.3 389.3,256.8 394.1,261.8 395.6,263.6 396.2,264.6 396.5,265.6 396.6,266.6 396.4,267.4" fill="none" stroke="rgb(90,90,120)" stroke-width="0.6" stroke-opacity="0.8"/>
<polygon points="400.3,166.8 400.3,186.1 398.7,188.1 395.1,192.1 393.7,193.8 390.2,198.8 387.5,202.3 386.9,203.3 386.7,204.3 386.8,205.1 387.1,205.8 387.6,206.3 388.5,207.1 390.1,208.1 394.6,210.6 397.8,212.8 400.3,214.1 400.3,255.1 399.0,256.6 395.3,260.1 393.8,261.8 393.0,263.1 392.6,264.1 392.3,265.3 392.2,266.3 392.3,267.4 400.3,267.4" fill="rgb(255,0,0)" fill-opacity="0.76"/>
<polygon points="400.3,166.8 403.3,166.8 404.0,168.3 406.6,172.6 407.1,173.8 407.2,175.1 407.1,176.1 406.6,177.1 405.9,178.1 403.7,180.6 402.9,181.6 400.3,186.1 400.3,213.8 400.4,214.1 402.0,214.6 413.8,217.6 417.6,218.8 419.1,219.6 420.5,220.6 421.1,221.3 421.3,221.8 421.3,222.3 421.2,223.1 420.8,224.1 420.2,224.8 419.2,225.8 416.9,227.6 410.6,232.1 408.8,233.6 407.5,234.8 406.6,236.1 405.6,237.6 402.9,242.8 402.0,245.1 401.5,246.8 401.3,248.3 401.3,251.3 401.2,252.6 400.9,253.8 400.3,255.1 400.3,267.4" fill="rgb(12,12,200)" fill-opacity="0.8"/>
<polyline points="403.3,166.8 404.0,168.3 406.1,171.6 406.8,173.1 407.1,174.1 407.2,174.8 407.2,175.6 407.0,176.3 406.1,177.8 402.9,181.6 400.7,185.3 399.7,186.8 398.5,188.3 394.1,193.3 390.2,198.8 387.5,202.3 387.0,203.1 386.7,203.8 386.7,204.6 386.8,205.1 387.0,205.6 387.4,206.1 388.5,207.1 390.1,208.1 394.6,210.6 397.4,212.6 398.7,213.3 400.4,214.1 402.0,214.6 413.8,217.6 417.6,218.8 419.1,219.6 420.5,220.6 420.9,221.1 421.2,221.6 421.3,222.6 421.2,223.3 420.8,224.1 419.4,225.6 417.6,227.1 411.6,231.3 409.4,233.1 407.5,234.8 406.0,236.8 405.0,238.6 403.0,242.6 402.3,244.3 401.7,245.8 401.4,247.1 401.3,248.1 401.3,252.3 401.1,253.3 400.8,254.1 400.3,255.1 399.5,256.1 395.3,260.1 394.2,261.3 393.4,262.3 392.8,263.6 392.4,264.8 392.2,266.1 392.3,267.4" fill="none" stroke="rgb(90,90,120)" stroke-width="0.6" stroke-opacity="0.8"/>
<line x1="384.10" y1="231.50" x2="416.30" y2="231.50" stroke="rgb(255,215,0)" stroke-opacity="0.85" stroke-width="3"/>
<polygon points="416.1,166.8 416.1,177.3 415.9,177.6 410.0,181.1 407.9,182.6 406.8,183.6 406.1,184.3 405.7,185.1 405.6,185.8 405.7,186.6 406.1,187.3 406.8,188.1 407.6,188.8 409.6,190.3 415.6,194.1 416.0,194.3 416.1,194.6 416.1,229.1 414.8,230.6 411.4,234.1 410.2,235.6 409.6,236.6 409.1,237.8 408.9,239.1 408.8,240.3 408.9,241.8 409.2,243.6 410.9,249.3 411.5,252.1 411.9,255.1 412.3,263.1 412.6,265.3 413.1,267.3 413.1,267.4 416.1,267.4" fill="rgb(255,0,0)" fill-opacity="0.76"/>
<polygon points="416.1,166.8 420.1,166.8 421.0,167.6 421.9,168.6 422.4,169.6 422.5,170.6 422.4,171.3 422.1,172.1 421.6,172.8 421.0,173.6 419.4,175.1 416.3,177.3 416.1,177.6 416.1,194.3 418.2,196.1 419.6,197.6 420.5,199.1 421.0,200.3 421.1,201.6 421.0,202.8 419.8,207.6 419.7,208.6 419.7,209.6 419.8,210.6 420.1,211.6 421.9,215.8 422.1,216.8 422.1,217.6 421.9,218.8 421.4,220.1 418.2,224.8 416.8,227.8 416.1,229.1 416.1,267.4" fill="rgb(12,12,200)" fill-opacity="0.8"/>
<polyline points="420.1,166.8 421.0,167.6 421.7,168.3 422.2,169.1 422.4,169.8 422.5,170.6 422.4,171.3 422.1,172.1 421.5,173.1 420.0,174.6 417.8,176.3 415.5,177.8 410.4,180.8 407.9,182.6 407.0,183.3 406.3,184.1 405.9,184.8 405.6,185.6 405.7,186.3 406.0,187.1 406.5,187.8 407.6,188.8 409.6,190.3 416.0,194.3 417.6,195.6 418.7,196.6 419.8,197.8 420.4,198.8 420.8,199.8 421.1,201.1 421.1,202.1 421.0,203.1 419.8,207.6 419.7,208.6 419.7,209.6 419.8,210.3 420.0,211.3 421.5,214.8 422.0,216.1 422.1,217.6 421.9,218.8 421.1,220.6 418.2,224.8 416.8,227.8 416.1,229.1 414.8,230.6 411.4,234.1 410.1,235.8 409.2,237.6 408.8,239.3 408.8,241.1 409.1,243.1 409.5,244.8 411.0,249.6 411.6,252.3 411.9,255.3 412.3,263.1 412.6,265.3 413.1,267.4" fill="none" stroke="rgb(90,90,120)" stroke-width="0.6" stroke-opacity="0.8"/>
<line x1="399.90" y1="218.40" x2="432.60" y2="218.40" stroke="rgb(255,215,0)" stroke-opacity="0.85" stroke-width="3"/>
<polygon points="445.3,166.8 445.3,176.1 445.2,176.3 437.4,182.8 434.9,185.1 433.1,187.1 431.5,189.1 430.3,191.1 429.7,192.8 429.5,194.6 429.7,196.3 430.3,197.8 431.4,199.3 432.7,200.6 434.4,201.8 437.0,203.3 440.5,205.1 444.9,207.1 445.3,207.3 445.3,226.8 445.2,227.1 444.0,227.8 442.7,228.8 441.4,230.1 440.9,230.8 440.5,231.6 440.3,232.3 440.3,233.1 440.4,233.8 440.6,234.8 441.6,236.8 443.5,240.1 444.3,241.1 445.3,242.1 445.3,267.4" fill="rgb(255,0,0)" fill-opacity="0.76"/>
<polygon points="445.3,166.8 455.3,166.8 453.5,168.8 451.4,170.8 448.7,173.3 445.5,176.1 445.3,176.3 445.3,207.1 445.5,207.3 452.7,210.6 454.5,211.6 456.1,212.6 457.3,213.6 458.2,214.6 458.7,215.6 459.0,216.8 458.8,217.8 458.2,219.1 457.4,220.1 456.0,221.3 453.2,223.1 447.1,226.1 445.3,227.1 445.3,241.8 445.3,242.1 447.0,243.3 454.3,247.8 455.8,248.8 457.1,249.8 458.0,250.8 458.8,252.1 459.1,253.1 459.3,254.3 459.1,255.6 458.7,257.1 457.9,258.8 455.3,264.1 454.6,265.8 454.3,267.4 445.3,267.4" fill="rgb(12,12,200)" fill-opacity="0.8"/>
<polyline points="455.3,166.8 453.0,169.3 450.1,172.1 446.7,175.1 437.9,182.3 435.7,184.3 433.7,186.3 431.9,188.6 430.6,190.6 429.8,192.6 429.5,193.6 429.5,194.6 429.7,196.3 430.1,197.3 430.5,198.1 431.2,199.1 431.9,199.8 433.7,201.3 436.1,202.8 438.9,204.3 442.7,206.1 450.6,209.6 454.5,211.6 456.1,212.6 457.3,213.6 458.2,214.6 458.8,215.8 459.0,216.8 458.8,218.1 458.1,219.3 456.9,220.6 455.6,221.6 453.6,222.8 446.1,226.6 443.6,228.1 442.4,229.1 441.2,230.3 440.7,231.3 440.3,232.6 440.3,233.3 440.4,234.1 441.1,235.8 443.2,239.6 444.6,241.3 445.6,242.3 447.3,243.6 453.9,247.6 456.2,249.1 457.8,250.6 458.4,251.3 458.9,252.3 459.2,253.3 459.3,254.3 459.2,255.3 458.9,256.3 458.0,258.6 455.2,264.3 454.5,266.1 454.3,267.4" fill="none" stroke="rgb(90,90,120)" stroke-width="0.6" stroke-opacity="0.8"/>
<line x1="428.60" y1="216.30" x2="461.60" y2="216.30" stroke="rgb(255,215,0)" stroke-opacity="0.85" stroke-width="3"/>
<polygon points="458.6,166.8 458.6,219.1 455.9,221.6 452.3,224.3 448.6,226.8 442.5,230.6 440.4,232.1 439.3,233.1 438.7,233.8 438.2,234.8 438.1,235.6 438.3,236.3 438.8,237.3 439.4,238.1 440.5,239.1 443.2,241.1 449.9,245.3 452.4,247.1 454.8,249.1 455.7,250.1 456.2,250.8 457.1,252.6 458.1,255.6 458.6,257.1 458.6,267.4" fill="rgb(255,0,0)" fill-opacity="0.76"/>
<polygon points="458.6,166.8 468.6,166.8 464.6,172.1 463.2,174.1 462.2,176.1 461.8,177.1 461.6,178.1 461.6,179.3 461.9,180.8 463.2,185.1 463.6,186.6 463.7,187.8 463.8,189.3 463.6,191.1 463.0,195.3 462.7,198.6 462.6,203.3 462.7,210.1 462.5,212.3 462.0,214.1 461.4,215.6 460.4,217.1 458.6,219.1 458.6,256.8 458.7,257.1 459.1,257.8 461.0,260.8 461.7,262.1 462.1,263.3 462.3,264.3 462.2,265.1 461.9,265.8 461.4,266.6 460.6,267.4 458.6,267.4" fill="rgb(12,12,200)" fill-opacity="0.8"/>
<polyline points="468.6,166.8 464.6,172.1 463.4,173.8 462.3,175.8 461.9,176.8 461.7,177.8 461.6,179.1 461.8,180.3 462.1,181.8 463.5,186.1 463.7,187.3 463.8,188.6 463.7,190.3 463.0,195.3 462.7,198.8 462.6,202.8 462.7,209.6 462.6,211.3 462.3,213.1 461.7,214.8 460.9,216.3 459.7,217.8 458.4,219.3 456.5,221.1 454.0,223.1 451.2,225.1 448.2,227.1 442.9,230.3 440.7,231.8 439.6,232.8 438.9,233.6 438.3,234.6 438.1,235.3 438.2,236.1 438.6,237.1 439.4,238.1 440.5,239.1 443.2,241.1 449.9,245.3 452.4,247.1 454.5,248.8 455.5,249.8 456.1,250.6 457.0,252.3 458.2,255.8 458.7,257.1 461.3,261.3 462.1,263.1 462.3,264.3 462.1,265.3 461.6,266.3 460.6,267.4" fill="none" stroke="rgb(90,90,120)" stroke-width="0.6" stroke-opacity="0.8"/>
<line x1="442.00" y1="186.50" x2="475.00" y2="186.50" stroke="rgb(255,215,0)" stroke-opacity="0.85" stroke-width="3"/>
<polygon points="463.2,166.8 463.2,175.8 463.1,176.1 461.8,177.1 459.9,178.3 452.9,182.3 451.0,183.6 450.1,184.3 449.4,185.1 448.9,185.8 448.8,186.6 449.1,187.3 449.7,188.1 450.6,188.8 451.9,189.6 455.5,191.3 463.0,194.3 463.2,194.6 463.2,219.1 461.3,220.6 456.0,223.8 454.2,225.1 453.4,225.8 452.8,226.6 452.5,227.3 452.4,228.1 452.5,228.6 452.7,229.3 453.6,230.6 455.3,232.1 458.9,234.6 460.4,235.8 461.1,236.8 461.4,238.3 461.6,238.8 462.1,239.3 463.2,240.1 463.2,261.8 463.0,262.6 462.4,264.3 462.2,265.3 462.4,266.3 462.6,266.8 463.2,267.4" fill="rgb(255,0,0)" fill-opacity="0.76"/>
<polygon points="463.2,166.8 469.2,166.8 467.3,170.8 466.3,172.6 465.0,174.3 463.2,176.1 463.2,194.3 463.6,194.6 470.2,197.3 472.3,198.3 474.1,199.3 475.6,200.3 476.7,201.3 477.3,202.3 477.4,203.1 477.3,203.8 477.0,204.3 475.9,205.6 474.1,206.8 469.5,209.8 468.2,210.8 467.2,211.8 466.4,212.8 465.8,213.8 465.3,214.8 464.4,217.3 464.0,218.1 463.2,219.1 463.2,239.8 463.3,240.1 465.5,240.8 473.4,242.8 476.8,243.8 477.9,244.3 479.1,245.1 479.5,245.6 479.8,246.3 479.7,246.8 479.6,247.3 478.7,248.8 477.5,250.3 476.2,251.6 474.9,252.6 473.3,253.6 466.3,257.6 465.0,258.6 464.0,259.6 463.5,260.6 463.2,262.1 463.2,267.4" fill="rgb(12,12,200)" fill-opacity="0.8"/>
<polyline points="469.2,166.8 466.6,172.1 465.6,173.6 464.3,175.1 462.8,176.3 460.7,177.8 452.9,182.3 451.0,183.6 450.1,184.3 449.4,185.1 448.9,185.8 448.8,186.3 448.9,187.1 449.2,187.6 449.7,188.1 451.0,189.1 452.8,190.1 456.7,191.8 469.1,196.8 471.8,198.1 473.7,199.1 475.3,200.1 476.4,201.1 477.2,202.1 477.4,202.8 477.4,203.6 477.2,204.1 476.9,204.6 476.1,205.3 474.5,206.6 469.1,210.1 467.9,211.1 467.0,212.1 466.2,213.1 465.6,214.1 464.5,217.1 464.1,217.8 463.2,219.1 461.3,220.6 456.0,223.8 454.2,225.1 453.0,226.3 452.7,226.8 452.4,227.6 452.4,228.1 452.5,228.8 452.9,229.6 453.4,230.3 454.9,231.8 458.9,234.6 460.4,235.8 461.1,236.8 461.4,238.3 461.6,238.8 462.4,239.6 463.3,240.1 465.5,240.8 473.4,242.8 476.8,243.8 477.9,244.3 478.8,244.8 479.3,245.3 479.7,246.1 479.8,246.6 479.7,247.1 478.9,248.6 477.7,250.1 476.2,251.6 474.9,252.6 473.3,253.6 466.3,257.6 465.0,258.6 464.0,259.6 463.5,260.6 463.1,262.3 462.4,264.3 462.2,265.1 462.2,265.8 462.4,266.3 462.6,266.8 463.2,267.4" fill="none" stroke="rgb(90,90,120)" stroke-width="0.6" stroke-opacity="0.8"/>
<line x1="446.50" y1="203.90" x2="479.50" y2="203.90" stroke="rgb(255,215,0)" stroke-opacity="0.85" stroke-width="3"/>
<polygon points="486.9,166.8 480.9,166.8 478.2,168.8 476.8,170.1 475.5,171.3 474.5,172.6 473.6,173.8 472.9,175.1 472.4,176.3 472.1,177.6 472.0,179.1 472.2,181.1 472.9,183.1 474.1,185.1 475.9,187.1 478.1,188.8 480.5,190.3 482.9,191.6 486.5,193.1 486.9,193.3 486.9,213.8 484.4,215.3 484.0,215.8 483.9,216.1 483.9,216.3 484.2,216.8 485.7,218.3 485.9,218.8 485.9,219.1 485.6,219.6 484.9,220.1 479.3,222.8 477.7,223.8 476.0,225.1 474.4,226.6 470.7,230.3 469.8,231.6 469.6,232.3 469.6,232.8 469.8,233.8 470.3,234.8 472.7,238.1 473.6,239.6 474.1,240.8 474.3,241.8 474.2,242.8 473.7,243.8 473.0,245.1 471.1,247.6 470.3,249.1 470.1,250.3 470.2,251.1 470.5,251.8 471.0,252.6 471.6,253.3 472.4,254.1 473.8,255.1 476.3,256.6 483.1,260.1 484.6,261.1 485.5,261.8 486.3,262.8 486.6,263.8 486.9,265.1 486.9,267.4" fill="rgb(255,0,0)" fill-opacity="0.76"/>
<polygon points="486.9,166.8 486.9,193.1 487.2,193.3 488.6,193.8 499.7,197.6 503.4,199.1 505.3,200.1 506.3,200.8 506.9,201.3 507.2,201.8 507.4,202.6 507.2,203.1 506.7,203.8 505.8,204.6 504.6,205.3 502.6,206.3 493.6,210.6 487.1,213.8 486.9,214.1 486.9,264.8 487.1,265.6 487.6,266.3 488.1,266.8 488.9,267.4 486.9,267.4" fill="rgb(12,12,200)" fill-opacity="0.8"/>
<polyline points="480.9,166.8 477.9,169.1 475.5,171.3 473.8,173.6 473.2,174.6 472.6,175.8 472.3,176.8 472.0,178.1 472.0,179.3 472.1,180.6 472.4,181.8 472.8,182.8 473.4,184.1 474.1,185.1 475.4,186.6 477.1,188.1 479.2,189.6 481.4,190.8 484.1,192.1 487.2,193.3 498.3,197.1 502.8,198.8 504.9,199.8 506.0,200.6 507.1,201.6 507.4,202.3 507.2,203.1 506.7,203.8 505.8,204.6 504.6,205.3 502.6,206.3 493.6,210.6 486.1,214.3 484.4,215.3 484.0,215.8 483.9,216.3 484.2,216.8 485.5,218.1 485.8,218.6 485.9,219.1 485.6,219.6 484.9,220.1 484.0,220.6 479.3,222.8 477.7,223.8 476.3,224.8 474.6,226.3 471.1,229.8 470.1,231.1 469.6,232.1 469.6,233.1 469.9,234.1 470.6,235.3 472.7,238.1 473.5,239.3 474.1,240.6 474.3,241.8 474.2,242.8 473.7,243.8 473.0,245.1 471.1,247.6 470.3,249.1 470.1,250.3 470.2,251.1 470.5,251.8 471.0,252.6 471.6,253.3 472.4,254.1 473.8,255.1 476.3,256.6 482.6,259.8 484.3,260.8 485.3,261.6 485.8,262.1 486.3,262.8 486.6,263.6 486.9,265.1 487.2,265.8 487.8,266.6 488.9,267.4" fill="none" stroke="rgb(90,90,120)" stroke-width="0.6" stroke-opacity="0.8"/>
<line x1="470.40" y1="203.40" x2="503.40" y2="203.40" stroke="rgb(255,215,0)" stroke-opacity="0.85" stroke-width="3"/>
<polygon points="525.8,166.8 525.8,178.6 523.7,180.1 522.9,180.8 522.3,181.6 521.9,182.3 521.6,183.1 521.4,183.8 521.3,184.8 521.4,186.1 521.7,187.6 522.0,188.8 522.5,189.8 523.1,190.8 523.7,191.6 525.8,193.3 525.8,211.3 525.6,211.6 524.0,212.6 516.8,216.6 514.5,218.1 513.2,219.1 512.5,219.8 512.1,220.6 511.9,221.3 512.1,222.1 512.5,222.8 513.3,223.6 514.4,224.3 517.3,225.8 524.0,228.6 525.3,229.3 525.8,229.8 525.8,244.3 524.9,245.3 523.7,246.3 518.8,249.6 516.9,251.1 515.8,252.3 515.6,252.8 515.5,253.6 515.7,254.3 516.1,255.1 516.8,255.8 518.0,256.8 520.3,258.3 525.8,261.3 525.8,267.4" fill="rgb(255,0,0)" fill-opacity="0.76"/>
<polygon points="525.8,166.8 531.8,166.8 533.4,168.1 534.2,169.1 534.8,170.1 535.0,171.1 534.9,172.1 534.5,172.8 533.8,173.8 533.0,174.6 530.7,176.1 525.9,178.6 525.8,178.8 525.8,193.1 526.0,193.3 527.3,194.1 533.8,197.3 535.9,198.6 536.9,199.3 537.4,199.8 537.8,200.6 537.9,201.1 537.8,201.6 537.5,202.1 536.4,203.3 532.1,206.6 527.7,210.1 525.9,211.3 525.8,211.6 525.8,229.6 526.2,230.6 526.3,231.8 526.5,232.6 527.1,233.6 528.9,235.8 529.3,236.6 529.4,237.3 529.4,237.8 529.1,238.6 526.9,241.8 526.2,243.6 525.8,244.3 525.8,261.3 532.1,265.3 533.9,266.3 536.3,267.4 525.8,267.4" fill="rgb(12,12,200)" fill-opacity="0.8"/>
<polyline points="531.8,166.8 533.6,168.3 534.2,169.1 534.7,169.8 534.9,170.6 535.0,171.3 534.9,172.1 534.7,172.6 533.8,173.8 532.3,175.1 530.7,176.1 525.5,178.8 524.0,179.8 522.9,180.8 522.0,182.1 521.5,183.3 521.3,184.8 521.5,186.6 521.9,188.3 522.5,189.8 523.3,191.1 524.3,192.1 525.6,193.1 526.8,193.8 533.8,197.3 536.3,198.8 537.2,199.6 537.7,200.3 537.9,200.8 537.8,201.6 537.2,202.6 536.1,203.6 532.1,206.6 526.7,210.8 523.5,212.8 516.4,216.8 514.1,218.3 513.2,219.1 512.5,219.8 512.1,220.6 511.9,221.3 512.1,222.1 512.5,222.8 513.3,223.6 514.4,224.3 517.3,225.8 523.5,228.3 525.0,229.1 525.6,229.6 526.2,230.3 526.3,232.1 526.6,232.8 527.1,233.6 528.9,235.8 529.3,236.6 529.4,237.1 529.4,237.8 529.1,238.6 527.0,241.6 526.1,243.8 525.6,244.6 524.9,245.3 523.7,246.3 518.5,249.8 516.6,251.3 515.8,252.3 515.5,253.1 515.5,253.8 515.8,254.6 516.3,255.3 517.0,256.1 519.1,257.6 526.2,261.6 532.5,265.6 534.4,266.6 536.3,267.4" fill="none" stroke="rgb(90,90,120)" stroke-width="0.6" stroke-opacity="0.8"/>
<line x1="509.40" y1="202.20" x2="537.80" y2="202.20" stroke="rgb(255,215,0)" stroke-opacity="0.85" stroke-width="3"/>
<polygon points="549.5,166.8 541.0,166.8 549.5,171.3 549.5,196.8 538.5,201.6 533.3,204.1 531.7,205.1 530.5,206.1 529.7,207.1 529.5,207.8 529.6,208.6 530.1,209.3 530.8,210.1 532.2,211.1 534.7,212.6 541.4,216.1 545.0,218.1 548.1,220.1 549.3,221.1 549.5,221.3 549.5,263.8 548.0,267.4 549.5,267.4" fill="rgb(255,0,0)" fill-opacity="0.76"/>
<polygon points="549.5,166.8 549.5,171.3 559.5,176.6 562.1,178.1 564.4,179.6 566.3,181.1 567.4,182.3 568.1,183.6 568.2,184.6 568.0,185.6 567.2,186.8 565.9,188.1 563.9,189.6 561.4,191.1 558.1,192.8 554.0,194.8 549.5,196.8 549.5,221.1 549.6,221.3 551.0,222.8 551.8,223.8 552.4,225.1 552.9,226.3 553.5,228.8 553.9,234.1 554.2,236.3 554.8,238.3 556.8,243.3 557.2,244.8 557.3,246.3 557.1,248.1 556.4,249.8 555.7,251.3 553.5,255.1 552.4,257.1 551.1,259.8 549.5,263.8 549.5,267.4" fill="rgb(12,12,200)" fill-opacity="0.8"/>
<polyline points="541.0,166.8 557.7,175.6 560.8,177.3 563.3,178.8 565.4,180.3 567.0,181.8 567.9,183.1 568.1,183.8 568.2,184.3 568.2,184.8 568.0,185.6 567.6,186.3 567.0,187.1 565.3,188.6 562.7,190.3 559.1,192.3 554.5,194.6 539.1,201.3 534.3,203.6 532.1,204.8 530.7,205.8 529.8,206.8 529.5,207.6 529.6,208.3 530.1,209.3 530.8,210.1 532.2,211.1 534.7,212.6 544.1,217.6 546.6,219.1 548.7,220.6 550.1,221.8 551.4,223.3 552.3,224.8 552.9,226.3 553.3,227.6 553.5,229.1 553.9,234.1 554.2,236.1 554.7,238.1 556.4,242.1 557.0,243.8 557.3,245.6 557.3,247.1 557.0,248.3 556.4,249.8 555.5,251.6 553.2,255.6 552.2,257.6 550.9,260.3 548.0,267.4" fill="none" stroke="rgb(90,90,120)" stroke-width="0.6" stroke-opacity="0.8"/>
<line x1="533.70" y1="186.40" x2="566.10" y2="186.40" stroke="rgb(255,215,0)" stroke-opacity="0.85" stroke-width="3"/>
<polygon points="612.7,166.8 612.2,166.8 612.1,167.6 612.2,168.3 612.7,169.6 612.7,199.3 607.9,201.3 604.6,203.1 603.5,203.8 602.7,204.6 602.2,205.3 602.1,206.1 602.2,206.6 602.5,207.1 603.4,208.1 604.9,209.1 609.4,211.8 611.3,213.3 612.1,214.3 612.5,215.1 612.7,215.8 612.7,216.6 612.3,217.8 610.8,220.8 609.9,223.3 609.2,226.1 608.1,232.1 607.7,233.3 607.3,234.6 606.6,235.8 605.9,236.8 602.6,240.1 601.8,241.1 601.2,242.1 601.0,243.1 601.2,243.8 601.6,244.6 602.2,245.3 603.0,246.1 605.0,247.6 610.3,251.1 612.7,252.8 612.7,265.3 612.3,266.3 612.2,267.1 612.2,267.4 612.7,267.4" fill="rgb(255,0,0)" fill-opacity="0.76"/>
<polygon points="612.7,166.8 612.7,169.3 612.8,169.6 613.4,170.3 614.6,171.3 615.8,172.1 623.4,175.8 624.7,176.6 626.0,177.6 627.5,179.1 629.5,181.8 631.8,184.6 632.5,185.8 632.7,186.8 632.7,187.3 632.3,188.1 631.7,188.8 631.0,189.6 628.7,191.3 625.0,193.8 622.8,195.1 620.7,196.1 612.7,199.3 612.7,252.8 614.7,254.6 616.0,256.1 616.8,257.6 617.1,258.8 616.9,259.8 616.3,261.1 613.6,264.3 612.8,265.3 612.7,265.6 612.7,267.4" fill="rgb(12,12,200)" fill-opacity="0.8"/>
<polyline points="612.2,166.8 612.2,168.1 612.5,169.1 613.2,170.1 614.3,171.1 615.4,171.8 616.7,172.6 623.8,176.1 625.4,177.1 626.6,178.1 627.7,179.3 629.5,181.8 631.8,184.6 632.5,185.8 632.7,186.8 632.7,187.3 632.3,188.1 631.7,188.8 631.0,189.6 628.7,191.3 625.0,193.8 622.8,195.1 620.2,196.3 610.2,200.3 606.4,202.1 604.6,203.1 603.5,203.8 602.5,204.8 602.1,205.6 602.1,206.1 602.2,206.6 602.5,207.1 602.9,207.6 604.5,208.8 609.0,211.6 610.7,212.8 611.5,213.6 612.1,214.3 612.5,215.1 612.7,215.8 612.7,216.6 612.4,217.6 610.7,221.1 609.8,223.6 609.2,226.3 608.1,232.1 607.4,234.3 606.8,235.6 605.9,236.8 602.6,240.1 601.8,241.1 601.2,242.1 601.0,243.1 601.1,243.6 601.4,244.3 602.0,245.1 602.8,245.8 604.7,247.3 610.6,251.3 613.3,253.3 614.5,254.3 615.4,255.3 616.2,256.3 616.6,257.1 616.9,257.8 617.0,258.6 617.0,259.3 616.8,260.1 616.4,260.8 615.9,261.6 613.6,264.3 612.8,265.3 612.3,266.3 612.2,266.8 612.2,267.4" fill="none" stroke="rgb(90,90,120)" stroke-width="0.6" stroke-opacity="0.8"/>
<line x1="596.00" y1="188.60" x2="628.80" y2="188.60" stroke="rgb(255,215,0)" stroke-opacity="0.85" stroke-width="3"/>
<polygon points="120.8,288.3 120.8,303.3 120.5,303.6 118.3,304.8 110.1,308.8 107.0,310.6 105.6,311.6 104.9,312.3 104.4,313.1 104.2,313.8 104.4,314.6 105.0,315.3 105.8,316.1 107.2,317.1 109.9,318.6 117.7,322.6 120.8,324.3 120.8,376.8 120.7,377.1 119.7,378.1 115.4,381.3 113.8,382.8 112.9,383.8 112.5,384.6 112.2,385.3 112.1,386.1 112.2,386.8 112.6,387.6 113.1,388.3 113.8,388.9 120.8,388.9" fill="rgb(255,0,0)" fill-opacity="0.76"/>
<polygon points="120.8,288.3 127.8,288.3 129.0,289.1 130.1,290.1 130.7,291.1 130.9,292.1 130.9,292.8 130.5,293.8 130.0,294.6 129.2,295.6 123.7,301.1 122.3,302.3 120.9,303.3 120.8,303.6 120.8,324.3 124.1,326.6 125.6,327.8 126.5,328.8 127.5,330.1 128.0,331.1 128.3,332.1 128.4,333.1 128.2,334.3 127.8,335.8 125.5,341.1 124.1,344.8 123.2,348.3 122.6,351.3 122.4,354.3 122.6,357.3 123.2,359.8 124.8,364.6 125.1,365.8 125.2,367.1 125.0,368.3 124.5,369.6 122.9,372.8 121.7,375.6 120.8,377.1 120.8,388.9" fill="rgb(12,12,200)" fill-opacity="0.8"/>
<polyline points="127.8,288.3 129.0,289.1 130.1,290.1 130.6,290.8 130.9,291.8 130.9,292.8 130.5,293.8 129.8,294.8 128.8,296.1 123.7,301.1 121.6,302.8 120.1,303.8 118.3,304.8 110.1,308.8 107.4,310.3 105.9,311.3 105.1,312.1 104.5,312.8 104.3,313.6 104.3,314.3 104.8,315.1 105.5,315.8 106.8,316.8 109.4,318.3 119.5,323.6 122.0,325.1 124.1,326.6 125.8,328.1 127.1,329.6 128.0,331.1 128.3,332.3 128.3,333.8 128.0,335.3 125.3,341.6 123.8,346.1 122.9,349.3 122.5,352.3 122.4,354.8 122.6,357.3 123.2,359.8 124.5,363.6 124.9,365.1 125.2,366.8 125.0,368.3 124.4,369.8 122.9,372.8 121.9,375.3 121.1,376.6 120.5,377.3 119.7,378.1 115.7,381.1 114.5,382.1 113.3,383.3 112.6,384.3 112.2,385.6 112.1,386.3 112.2,386.8 112.7,387.8 113.8,388.9" fill="none" stroke="rgb(90,90,120)" stroke-width="0.6" stroke-opacity="0.8"/>
<line x1="104.10" y1="333.20" x2="136.90" y2="333.20" stroke="rgb(255,215,0)" stroke-opacity="0.85" stroke-width="3"/>
<polygon points="181.8,288.3 176.2,288.3 177.5,290.1 180.1,293.8 181.8,296.1 181.8,313.1 181.7,313.3 180.0,314.3 173.2,317.8 170.7,319.3 169.4,320.3 168.7,321.1 168.3,321.8 168.1,322.6 168.2,323.3 168.7,324.1 169.4,324.8 170.3,325.6 177.2,330.3 179.3,331.6 181.6,332.8 181.8,333.1 181.8,349.8 181.8,350.1 179.2,352.1 177.4,353.8 176.6,355.1 176.3,355.8 176.2,356.3 176.4,357.3 176.8,358.3 178.9,361.6 179.6,362.8 179.9,363.8 179.8,365.1 179.4,366.3 178.6,367.8 174.9,372.3 173.9,373.8 173.2,375.3 173.0,376.6 173.1,377.3 173.5,378.3 174.1,379.3 175.0,380.3 176.0,381.3 177.5,382.6 181.8,385.6 181.8,385.8 181.8,388.9" fill="rgb(255,0,0)" fill-opacity="0.76"/>
<polygon points="181.8,288.3 181.9,296.1 185.4,299.6 186.7,301.1 187.3,302.1 187.7,302.8 187.9,303.6 187.9,304.3 187.9,305.1 187.6,306.1 187.1,307.1 186.1,308.6 184.9,310.3 184.1,311.3 181.8,313.3 181.8,332.8 182.2,333.1 188.4,335.8 191.1,337.3 192.1,338.1 192.8,338.8 193.2,339.6 193.3,340.3 193.2,340.8 192.9,341.6 192.2,342.3 191.4,343.1 181.8,350.1 181.8,385.6 186.8,388.9 181.8,388.9" fill="rgb(12,12,200)" fill-opacity="0.8"/>
<polyline points="176.2,288.3 177.4,289.8 179.7,293.3 181.0,295.1 182.4,296.6 185.4,299.6 186.9,301.3 187.4,302.3 187.8,303.3 187.9,304.3 187.8,305.3 187.4,306.6 186.3,308.3 184.7,310.6 183.3,312.1 182.1,313.1 180.5,314.1 173.2,317.8 170.4,319.6 169.2,320.6 168.5,321.3 168.1,322.3 168.2,323.1 168.4,323.6 168.9,324.3 170.3,325.6 178.0,330.8 181.1,332.6 188.4,335.8 191.1,337.3 192.1,338.1 192.8,338.8 193.2,339.6 193.3,340.3 193.2,340.8 192.9,341.6 192.2,342.3 191.4,343.1 179.8,351.6 177.9,353.3 176.7,354.8 176.4,355.6 176.3,356.1 176.2,356.6 176.4,357.3 177.1,358.8 178.9,361.6 179.5,362.6 179.9,363.8 179.8,365.1 179.4,366.3 178.6,367.8 174.9,372.3 173.9,373.8 173.2,375.3 173.0,376.1 173.0,376.8 173.3,377.8 173.8,378.8 174.7,380.1 176.0,381.3 177.5,382.6 179.6,384.1 186.8,388.9" fill="none" stroke="rgb(90,90,120)" stroke-width="0.6" stroke-opacity="0.8"/>
<line x1="164.80" y1="341.40" x2="198.00" y2="341.40" stroke="rgb(255,215,0)" stroke-opacity="0.85" stroke-width="3"/>
<polygon points="243.2,288.3 243.2,303.3 242.9,304.8 242.9,306.1 243.0,307.1 243.2,308.1 243.2,326.6 243.1,326.8 241.5,327.8 235.1,331.1 233.0,332.3 231.5,333.6 231.0,334.3 230.9,334.8 231.0,335.3 231.3,335.8 231.8,336.3 232.8,337.1 239.5,340.8 242.9,342.6 243.2,342.8 243.2,369.6 243.1,369.8 241.1,371.3 234.2,376.1 231.5,378.3 230.1,379.8 229.2,381.3 228.6,382.8 228.5,384.1 228.7,385.3 229.2,386.6 230.1,387.8 231.2,388.9 243.2,388.9" fill="rgb(255,0,0)" fill-opacity="0.76"/>
<polygon points="243.2,288.3 243.7,288.3 244.1,291.8 244.2,295.1 244.2,297.3 244.0,299.3 243.7,301.3 243.2,303.3 243.2,308.1 243.9,309.3 244.9,310.6 248.8,314.6 249.9,315.8 250.7,317.1 251.0,317.8 251.0,318.3 250.9,319.1 250.7,319.6 249.8,320.8 243.2,326.8 243.2,342.6 243.4,342.8 244.5,343.3 254.3,347.6 256.3,348.6 258.0,349.6 259.8,350.8 261.0,352.1 261.8,353.3 262.0,354.3 261.9,355.1 261.4,356.1 260.7,357.1 259.6,358.1 256.8,360.1 250.5,363.8 248.2,365.3 246.3,366.8 243.2,369.8 243.2,388.9" fill="rgb(12,12,200)" fill-opacity="0.8"/>
<polyline points="243.7,288.3 244.1,292.6 244.2,296.6 243.9,300.1 242.9,305.1 242.9,306.3 243.0,307.3 243.6,308.8 244.6,310.3 246.0,311.8 249.1,314.8 250.3,316.3 250.7,317.1 251.0,317.8 251.0,318.6 250.9,319.1 250.4,320.1 249.6,321.1 246.4,323.8 243.7,326.3 241.5,327.8 235.1,331.1 233.0,332.3 232.0,333.1 231.3,333.8 231.0,334.6 230.9,335.1 231.1,335.6 231.5,336.1 232.8,337.1 240.0,341.1 244.5,343.3 254.3,347.6 256.3,348.6 258.0,349.6 259.8,350.8 261.0,352.1 261.8,353.3 262.0,354.1 262.0,354.6 261.8,355.3 261.3,356.3 260.4,357.3 259.3,358.3 256.8,360.1 250.5,363.8 247.8,365.6 246.3,366.8 243.9,369.1 242.5,370.3 240.4,371.8 234.2,376.1 232.3,377.6 230.8,379.1 229.8,380.3 229.1,381.6 228.6,382.8 228.5,384.1 228.7,385.3 229.2,386.6 230.1,387.8 231.2,388.9" fill="none" stroke="rgb(90,90,120)" stroke-width="0.6" stroke-opacity="0.8"/>
<line x1="226.60" y1="355.50" x2="261.70" y2="355.50" stroke="rgb(255,215,0)" stroke-opacity="0.85" stroke-width="3"/>
<polygon points="275.7,288.3 262.7,288.3 264.3,289.8 266.9,291.6 270.2,293.3 275.7,296.1 275.7,318.1 273.9,319.3 272.3,320.6 270.9,321.8 269.2,323.6 268.2,324.8 267.5,325.8 267.1,326.8 266.9,327.8 267.2,329.1 267.8,330.3 270.9,334.3 274.0,339.1 275.7,341.1 275.7,368.8 275.7,369.1 273.5,370.8 271.7,372.6 269.9,374.6 267.7,377.3 266.6,378.8 265.9,380.1 265.4,381.3 265.3,382.3 265.5,383.6 266.0,384.6 267.2,385.8 268.5,386.8 270.2,387.8 272.7,388.9 275.7,388.9" fill="rgb(255,0,0)" fill-opacity="0.76"/>
<polygon points="275.7,288.3 275.7,295.8 275.8,296.1 284.0,300.1 286.7,301.6 288.8,302.8 290.5,304.1 291.5,305.1 292.2,306.1 292.4,307.1 292.2,308.1 291.5,309.1 290.5,310.1 289.1,311.1 285.6,313.1 277.1,317.3 275.8,318.1 275.7,318.3 275.8,341.1 278.3,343.1 285.4,347.8 287.8,349.8 289.2,351.3 290.1,352.6 290.8,354.1 290.9,355.3 290.7,356.6 290.1,358.1 289.2,359.3 287.7,360.8 284.9,363.1 277.8,367.6 275.7,369.1 275.7,388.9" fill="rgb(12,12,200)" fill-opacity="0.8"/>
<polyline points="262.7,288.3 263.4,289.1 264.7,290.1 267.8,292.1 271.7,294.1 282.5,299.3 288.0,302.3 289.8,303.6 291.3,304.8 292.1,305.8 292.4,306.8 292.3,307.8 291.7,308.8 290.8,309.8 289.5,310.8 286.1,312.8 276.7,317.6 274.6,318.8 272.9,320.1 270.9,321.8 268.8,324.1 267.7,325.6 267.3,326.3 267.0,327.1 266.9,327.8 267.0,328.6 267.3,329.3 267.7,330.1 268.5,331.3 270.9,334.3 273.5,338.3 274.6,339.8 275.8,341.1 277.3,342.3 285.0,347.6 287.8,349.8 289.0,351.1 290.0,352.3 290.6,353.6 290.9,354.8 290.9,356.1 290.4,357.6 289.6,358.8 288.3,360.3 286.9,361.6 285.2,362.8 277.1,368.1 275.3,369.3 273.8,370.6 271.9,372.3 270.1,374.3 267.5,377.6 266.2,379.6 265.5,381.1 265.3,382.3 265.5,383.6 266.0,384.6 267.2,385.8 268.5,386.8 270.2,387.8 272.7,388.9" fill="none" stroke="rgb(90,90,120)" stroke-width="0.6" stroke-opacity="0.8"/>
<line x1="259.00" y1="355.50" x2="292.00" y2="355.50" stroke="rgb(255,215,0)" stroke-opacity="0.85" stroke-width="3"/>
<polygon points="333.8,288.3 333.7,309.1 331.5,313.3 330.6,315.6 330.2,316.8 330.0,318.3 329.8,321.6 329.9,324.1 330.1,325.1 330.5,326.1 331.0,327.1 331.6,327.8 333.8,330.1 333.8,355.8 333.7,356.1 332.9,357.8 332.3,359.6 330.4,368.3 329.5,373.8 329.3,376.1 329.2,378.3 329.3,380.8 329.7,383.1 330.2,385.3 331.0,387.3 331.8,388.9 333.8,388.9" fill="rgb(255,0,0)" fill-opacity="0.76"/>
<polygon points="333.8,288.3 337.8,288.3 337.8,289.1 337.7,290.1 337.4,291.3 335.8,295.3 335.3,297.1 335.1,299.1 335.4,302.8 335.3,304.6 334.9,306.6 333.8,309.1 333.8,329.8 333.8,330.1 334.8,331.3 335.5,332.6 336.4,334.3 337.1,336.3 338.9,342.3 339.2,344.1 339.4,345.8 339.1,347.8 338.8,348.8 338.4,349.8 337.4,351.3 334.6,354.8 333.8,356.1 333.8,388.9" fill="rgb(12,12,200)" fill-opacity="0.8"/>
<polyline points="337.8,288.3 337.8,289.6 337.6,290.8 337.0,292.3 335.6,295.8 335.2,297.6 335.1,299.3 335.4,303.6 335.2,305.6 334.8,306.8 334.2,308.1 331.7,312.8 330.8,314.8 330.2,317.1 329.8,319.8 329.8,323.3 330.0,324.6 330.3,325.6 330.7,326.6 331.4,327.6 333.8,330.1 334.6,331.1 335.4,332.3 336.1,333.8 337.3,336.8 338.6,341.1 339.1,343.6 339.4,345.6 339.3,346.8 339.1,347.8 338.8,348.8 338.4,349.8 337.2,351.6 334.1,355.6 333.3,356.8 332.8,358.1 332.1,360.6 330.0,370.8 329.5,373.8 329.3,376.3 329.2,378.6 329.3,380.8 329.7,383.1 330.2,385.1 330.9,387.1 331.8,388.9" fill="none" stroke="rgb(90,90,120)" stroke-width="0.6" stroke-opacity="0.8"/>
<line x1="317.10" y1="336.60" x2="350.10" y2="336.60" stroke="rgb(255,215,0)" stroke-opacity="0.85" stroke-width="3"/>
<polygon points="337.7,288.3 337.7,297.8 337.7,298.1 337.3,298.8 332.3,307.6 330.6,310.1 329.5,311.3 328.2,312.6 324.1,315.8 323.0,316.8 322.0,318.1 321.7,319.1 321.8,319.8 322.3,320.6 323.2,321.3 324.9,322.3 326.5,323.1 329.0,324.1 337.7,327.1 337.7,366.8 337.6,367.1 335.1,368.8 332.1,371.1 327.1,375.3 325.9,376.6 325.2,377.6 324.7,378.6 324.6,379.3 324.8,380.1 325.1,380.8 325.6,381.6 326.3,382.3 328.1,383.8 332.9,387.3 334.7,388.9 337.7,388.9" fill="rgb(255,0,0)" fill-opacity="0.76"/>
<polygon points="337.7,288.3 341.7,288.3 340.6,290.8 338.7,295.8 337.7,298.1 337.7,326.8 337.9,327.1 341.1,328.3 343.9,329.6 348.1,331.8 349.6,332.8 350.5,333.6 351.1,334.3 351.3,335.1 351.2,335.8 350.5,336.8 349.4,337.8 346.4,340.3 345.0,341.8 344.3,342.8 343.8,343.8 343.5,344.8 343.3,345.8 343.3,346.8 343.4,347.8 343.9,349.8 344.3,350.8 345.1,352.1 347.7,355.6 348.5,356.8 348.8,358.1 348.8,358.8 348.6,359.3 348.3,359.8 347.7,360.6 346.2,361.8 344.3,363.1 337.7,367.1 337.7,388.9" fill="rgb(12,12,200)" fill-opacity="0.8"/>
<polyline points="341.7,288.3 340.7,290.6 338.6,296.1 337.6,298.3 336.2,300.8 331.6,308.6 330.4,310.3 328.8,312.1 327.3,313.3 324.1,315.8 322.8,317.1 322.0,318.1 321.7,319.1 321.8,319.8 322.3,320.6 323.2,321.3 324.4,322.1 325.9,322.8 328.4,323.8 338.5,327.3 341.1,328.3 343.9,329.6 347.3,331.3 349.3,332.6 350.7,333.8 351.1,334.3 351.3,334.8 351.3,335.3 351.2,335.8 350.5,336.8 349.4,337.8 346.4,340.3 344.8,342.1 343.8,343.8 343.5,344.8 343.3,345.8 343.3,346.8 343.4,348.1 343.7,349.3 344.2,350.6 345.2,352.3 347.7,355.6 348.6,357.1 348.8,357.8 348.8,358.3 348.7,359.1 348.5,359.6 347.4,360.8 345.8,362.1 337.2,367.3 334.7,369.1 332.1,371.1 328.5,374.1 326.6,375.8 325.3,377.3 324.7,378.6 324.7,379.6 324.8,380.3 325.2,381.1 326.1,382.1 327.8,383.6 332.9,387.3 334.7,388.9" fill="none" stroke="rgb(90,90,120)" stroke-width="0.6" stroke-opacity="0.8"/>
<line x1="321.50" y1="335.30" x2="354.50" y2="335.30" stroke="rgb(255,215,0)" stroke-opacity="0.85" stroke-width="3"/>
<polygon points="362.6,288.3 355.6,288.3 359.4,290.3 362.6,292.3 362.6,303.1 362.5,303.3 358.5,306.3 356.3,308.3 355.4,309.3 355.0,310.1 354.6,311.1 354.5,311.8 354.7,312.8 355.2,313.8 358.0,317.6 359.1,319.3 360.0,321.3 360.5,323.3 360.7,324.8 360.8,326.3 360.6,331.6 360.6,338.8 360.4,345.6 360.5,348.6 360.7,350.6 361.1,351.8 361.6,352.8 362.6,354.1 362.6,366.1 361.1,369.3 360.8,370.3 360.6,371.3 360.7,372.6 361.6,375.6 361.6,376.8 361.2,377.8 360.5,378.8 357.7,382.1 356.8,383.3 356.2,384.6 356.1,385.6 356.4,386.3 356.9,387.1 357.7,387.8 358.9,388.6 359.6,388.9 362.6,388.9" fill="rgb(255,0,0)" fill-opacity="0.76"/>
<polygon points="362.6,288.3 362.6,292.3 364.6,293.8 366.1,295.3 366.7,296.1 367.1,296.8 367.3,297.6 367.4,298.1 367.3,298.8 367.1,299.3 366.4,300.3 365.3,301.3 362.8,303.1 362.6,303.3 362.6,353.8 362.7,354.1 363.0,354.3 365.7,356.3 366.6,357.1 367.2,357.8 367.3,358.3 367.2,358.8 366.8,359.6 364.6,362.1 363.9,363.1 363.4,364.1 362.6,366.1 362.6,388.9" fill="rgb(12,12,200)" fill-opacity="0.8"/>
<polyline points="355.6,288.3 360.7,291.1 362.6,292.3 364.3,293.6 365.7,294.8 366.5,295.8 367.2,297.1 367.4,298.1 367.3,298.8 366.9,299.6 366.6,300.1 365.9,300.8 364.6,301.8 359.4,305.6 357.6,307.1 356.3,308.3 355.4,309.3 355.0,310.1 354.7,310.8 354.5,311.6 354.7,312.6 355.2,313.8 358.0,317.6 359.2,319.6 360.1,321.6 360.6,323.6 360.8,326.3 360.6,331.6 360.6,339.6 360.4,346.8 360.5,349.3 360.9,351.3 361.4,352.6 362.2,353.6 363.0,354.3 366.3,356.8 367.0,357.6 367.3,358.3 367.2,358.8 366.8,359.6 364.6,362.1 363.8,363.3 362.5,366.3 361.3,368.8 360.9,370.1 360.6,371.1 360.6,371.8 360.8,372.8 361.6,375.6 361.6,376.6 361.4,377.3 361.1,378.1 360.4,379.1 357.1,382.8 356.5,383.8 356.2,384.6 356.1,385.3 356.2,385.8 356.7,386.8 357.7,387.8 359.6,388.9" fill="none" stroke="rgb(90,90,120)" stroke-width="0.6" stroke-opacity="0.8"/>
<line x1="346.30" y1="365.30" x2="378.90" y2="365.30" stroke="rgb(255,215,0)" stroke-opacity="0.85" stroke-width="3"/>
<polygon points="367.5,288.3 367.5,296.6 366.8,297.8 366.4,298.8 366.0,300.1 365.7,301.6 365.2,306.3 365.1,312.6 365.2,315.8 365.6,318.6 366.3,320.6 367.5,322.8 367.5,355.8 367.5,356.1 364.5,359.6 363.3,361.3 362.8,362.3 362.5,363.3 362.2,364.3 362.2,365.3 362.3,366.6 362.5,367.6 362.8,368.6 363.4,369.6 364.5,371.1 366.8,373.3 367.5,374.1 367.5,388.9" fill="rgb(255,0,0)" fill-opacity="0.76"/>
<polygon points="367.5,288.3 374.2,288.3 373.7,289.3 372.8,290.6 368.9,294.8 367.5,296.6 367.5,322.6 367.6,322.8 368.6,324.1 372.5,328.1 374.2,330.3 374.9,331.6 375.5,333.1 375.9,334.6 376.0,336.1 375.9,337.3 375.7,338.6 374.9,341.1 372.4,346.3 369.8,352.3 368.8,354.1 367.5,356.1 367.5,373.8 367.5,374.1 368.1,374.8 368.7,375.8 369.2,377.3 369.4,379.3 369.6,382.8 369.4,385.6 369.2,386.8 368.8,388.1 368.5,388.9 367.5,388.9" fill="rgb(12,12,200)" fill-opacity="0.8"/>
<polyline points="374.2,288.3 373.7,289.3 372.9,290.3 368.5,295.3 367.5,296.6 366.8,297.8 366.2,299.3 365.8,301.1 365.5,303.3 365.2,306.1 365.1,310.6 365.1,315.1 365.5,317.8 366.1,320.1 366.7,321.6 367.8,323.1 368.9,324.3 372.5,328.1 374.2,330.3 374.9,331.6 375.5,333.1 375.8,334.3 376.0,335.8 375.8,338.1 375.2,340.3 374.4,342.1 372.4,346.3 369.9,352.1 369.0,353.8 367.8,355.6 364.5,359.6 363.5,361.1 362.7,362.6 362.2,364.3 362.2,365.6 362.3,366.8 362.6,368.1 363.1,369.1 364.3,370.8 366.8,373.3 367.7,374.3 368.5,375.6 369.1,377.1 369.3,378.3 369.5,379.8 369.6,382.3 369.6,384.1 369.2,386.6 368.5,388.9" fill="none" stroke="rgb(90,90,120)" stroke-width="0.6" stroke-opacity="0.8"/>
<line x1="350.80" y1="334.30" x2="383.80" y2="334.30" stroke="rgb(255,215,0)" stroke-opacity="0.85" stroke-width="3"/>
<polygon points="387.2,288.3 380.2,288.3 378.8,289.3 377.7,290.3 377.0,291.3 376.6,292.6 376.6,293.8 377.0,295.1 377.6,296.3 378.8,298.1 381.8,302.1 383.0,303.6 384.6,305.1 387.1,306.8 387.2,307.1 387.2,341.8 387.1,342.1 383.7,343.6 381.2,344.8 379.5,345.8 378.5,346.6 377.4,347.6 376.5,348.8 376.1,349.8 375.9,351.1 376.0,352.1 376.3,353.1 376.8,354.1 377.5,355.1 379.3,357.1 383.6,360.8 385.1,362.3 386.0,363.6 386.8,365.3 387.2,366.1 387.2,370.8 387.2,371.1 386.6,371.8 386.0,372.8 385.7,373.8 385.6,374.8 385.7,375.8 386.0,377.1 387.2,380.1 387.2,388.9" fill="rgb(255,0,0)" fill-opacity="0.76"/>
<polygon points="387.2,288.3 387.2,306.8 387.9,307.3 393.7,310.3 395.8,311.6 397.3,312.8 398.2,314.1 398.5,315.3 398.4,316.6 398.1,317.6 397.1,320.3 396.6,322.1 396.3,323.8 396.3,325.6 396.4,327.1 396.7,328.6 397.2,329.8 398.4,332.8 398.7,334.3 398.6,335.3 398.3,336.1 397.5,337.1 396.5,337.8 395.3,338.6 393.8,339.3 387.2,342.1 387.2,365.8 387.3,366.1 388.9,367.6 389.3,368.1 389.3,368.3 389.2,368.8 388.9,369.3 387.2,371.1 387.3,380.1 388.1,381.8 388.5,383.1 388.8,384.1 388.9,385.1 388.8,386.1 388.5,387.1 387.9,388.1 387.2,388.9" fill="rgb(12,12,200)" fill-opacity="0.8"/>
<polyline points="380.2,288.3 378.8,289.3 377.7,290.3 377.0,291.3 376.6,292.3 376.5,293.3 376.8,294.6 377.3,295.8 378.1,297.1 382.0,302.3 383.0,303.6 384.0,304.6 385.6,305.8 387.1,306.8 393.7,310.3 396.2,311.8 397.1,312.6 397.9,313.6 398.3,314.3 398.5,315.3 398.4,316.3 398.2,317.3 397.1,320.6 396.6,322.1 396.4,323.6 396.3,325.1 396.4,326.8 396.7,328.6 397.2,329.8 398.4,332.6 398.7,333.8 398.7,335.1 398.4,335.8 398.1,336.3 397.5,337.1 396.9,337.6 394.8,338.8 392.6,339.8 384.2,343.3 381.7,344.6 379.9,345.6 378.5,346.6 377.2,347.8 376.4,349.1 376.0,350.3 375.9,351.3 376.2,352.6 376.7,353.8 377.5,355.1 379.3,357.1 383.3,360.6 384.9,362.1 386.0,363.6 386.8,365.3 387.1,365.8 388.7,367.3 389.3,368.1 389.3,368.6 388.9,369.3 387.0,371.3 386.2,372.3 385.8,373.3 385.6,374.3 385.6,375.6 386.0,377.1 386.5,378.3 388.3,382.3 388.7,383.6 388.9,384.6 388.8,385.8 388.6,386.8 388.1,387.8 387.2,388.9" fill="none" stroke="rgb(90,90,120)" stroke-width="0.6" stroke-opacity="0.8"/>
<line x1="370.50" y1="325.30" x2="403.50" y2="325.30" stroke="rgb(255,215,0)" stroke-opacity="0.85" stroke-width="3"/>
<polygon points="396.4,288.3 394.4,288.3 392.9,290.1 388.1,295.3 386.6,297.3 385.5,299.1 384.9,300.6 384.7,302.1 384.8,303.3 385.2,304.6 385.9,305.8 387.0,307.3 388.5,309.1 391.1,311.8 393.7,314.3 396.3,316.6 396.4,316.8 396.4,360.8 396.3,361.1 388.3,368.1 385.6,370.8 384.4,372.3 383.5,373.8 383.0,375.1 382.8,376.3 382.9,377.3 383.2,378.3 383.8,379.3 384.5,380.3 386.5,382.3 391.5,386.8 393.4,388.9 396.4,388.9" fill="rgb(255,0,0)" fill-opacity="0.76"/>
<polygon points="396.4,288.3 396.4,316.6 399.7,319.3 401.1,320.6 402.1,321.8 402.4,322.6 402.7,323.3 402.8,324.6 402.6,326.1 401.1,330.8 400.5,333.3 400.3,335.6 400.3,337.6 400.6,339.8 401.2,342.1 402.0,344.3 404.0,348.3 404.3,349.3 404.4,350.3 404.2,351.3 403.9,352.3 403.4,353.3 402.5,354.6 399.9,357.6 396.4,361.1 396.4,388.9" fill="rgb(12,12,200)" fill-opacity="0.8"/>
<polyline points="394.4,288.3 392.7,290.3 388.3,295.1 386.2,297.8 385.4,299.3 384.9,300.6 384.7,301.8 384.8,303.1 385.1,304.3 385.9,305.8 387.0,307.3 388.5,309.1 391.3,312.1 393.7,314.3 400.6,320.1 401.7,321.3 402.4,322.6 402.7,323.3 402.8,324.1 402.7,325.6 402.5,326.8 401.2,330.6 400.7,332.6 400.3,335.1 400.3,337.6 400.6,339.8 401.1,341.8 401.9,344.1 404.0,348.3 404.3,349.6 404.3,350.8 404.0,352.1 403.2,353.6 402.1,355.1 400.4,357.1 396.6,360.8 388.0,368.3 386.5,369.8 385.1,371.3 384.0,372.8 383.3,374.1 382.9,375.3 382.8,376.3 382.9,377.3 383.2,378.3 383.8,379.3 384.5,380.3 386.5,382.3 391.5,386.8 393.4,388.9" fill="none" stroke="rgb(90,90,120)" stroke-width="0.6" stroke-opacity="0.8"/>
<line x1="380.00" y1="342.50" x2="412.60" y2="342.50" stroke="rgb(255,215,0)" stroke-opacity="0.85" stroke-width="3"/>
<polygon points="400.3,288.3 400.3,311.8 400.0,313.6 399.9,315.3 400.0,317.3 400.3,320.1 400.3,324.8 400.2,325.6 399.3,328.6 399.1,330.1 399.2,330.8 399.4,331.8 400.3,334.1 400.3,334.3 400.3,360.8 400.3,361.1 394.0,366.3 391.8,368.6 390.8,369.8 390.1,371.1 389.6,372.3 389.5,373.6 389.6,374.8 390.1,376.3 390.8,377.8 391.8,379.3 393.3,381.3 397.5,386.3 399.3,388.9 400.3,388.9" fill="rgb(255,0,0)" fill-opacity="0.76"/>
<polygon points="400.3,288.3 412.7,288.3 412.2,290.3 411.2,292.6 409.7,295.1 406.0,300.6 404.0,303.8 401.5,308.6 400.8,310.3 400.3,311.8 400.3,319.8 400.5,322.8 400.3,325.1 400.3,334.1 404.1,341.1 408.1,347.1 408.7,348.6 408.9,349.8 408.8,350.6 408.5,351.6 408.0,352.6 407.2,353.8 403.9,357.6 400.3,361.1 400.3,388.9" fill="rgb(12,12,200)" fill-opacity="0.8"/>
<polyline points="412.7,288.3 412.5,289.3 412.1,290.6 411.0,292.8 409.7,295.1 405.3,301.6 403.7,304.3 401.9,307.8 401.1,309.6 400.5,311.1 400.1,312.6 400.0,314.1 400.0,316.6 400.5,321.6 400.5,323.3 400.3,325.1 399.4,328.1 399.2,329.3 399.1,330.3 399.3,331.6 399.7,332.8 400.3,334.1 403.5,340.1 404.8,342.3 407.3,345.8 408.2,347.3 408.6,348.3 408.8,349.1 408.9,350.1 408.8,350.8 408.3,352.1 407.4,353.6 405.9,355.3 403.6,357.8 400.8,360.6 394.5,365.8 392.0,368.3 391.0,369.6 390.3,370.6 389.8,371.8 389.5,372.8 389.5,374.1 389.7,375.3 390.2,376.6 391.0,378.1 392.7,380.6 397.5,386.3 399.3,388.9" fill="none" stroke="rgb(90,90,120)" stroke-width="0.6" stroke-opacity="0.8"/>
<line x1="384.00" y1="353.10" x2="416.50" y2="353.10" stroke="rgb(255,215,0)" stroke-opacity="0.85" stroke-width="3"/>
<polygon points="416.1,288.3 409.1,288.3 408.9,288.8 408.9,289.1 409.2,289.6 409.7,290.1 410.4,290.6 411.7,291.3 416.1,293.6 416.1,316.6 414.0,318.3 408.6,322.1 407.0,323.3 406.2,324.1 405.6,324.8 405.3,325.6 405.2,326.1 405.2,326.6 405.4,327.1 405.8,327.6 406.4,328.3 408.0,329.6 413.7,333.6 415.2,334.8 415.8,335.6 416.1,336.1 416.1,388.9" fill="rgb(255,0,0)" fill-opacity="0.76"/>
<polygon points="416.1,288.3 416.1,293.3 416.2,293.6 417.9,294.6 419.3,295.6 422.4,298.1 424.1,299.6 425.2,300.8 425.9,301.8 426.3,302.8 426.4,303.6 426.3,304.3 426.1,305.1 425.7,305.8 425.0,306.8 421.6,310.6 418.4,314.3 416.2,316.6 416.1,316.8 416.1,335.8 416.6,337.1 416.7,338.3 416.4,342.8 416.4,346.6 416.8,373.8 416.7,380.6 416.5,386.6 416.4,388.9 416.1,388.9" fill="rgb(12,12,200)" fill-opacity="0.8"/>
<polyline points="409.1,288.3 408.9,288.8 409.0,289.3 409.4,289.8 410.0,290.3 411.7,291.3 415.7,293.3 417.5,294.3 419.6,295.8 423.0,298.6 424.3,299.8 425.4,301.1 426.2,302.3 426.4,303.3 426.4,304.1 426.2,304.8 425.8,305.6 425.2,306.6 418.0,314.8 416.4,316.3 414.9,317.6 408.6,322.1 407.0,323.3 405.8,324.6 405.4,325.3 405.2,325.8 405.2,326.3 405.3,326.8 405.6,327.3 406.2,328.1 407.6,329.3 412.7,332.8 414.6,334.3 415.4,335.1 416.0,335.8 416.4,336.6 416.6,337.3 416.7,338.6 416.4,342.8 416.4,346.8 416.7,366.6 416.8,375.3 416.7,382.3 416.4,388.9" fill="none" stroke="rgb(90,90,120)" stroke-width="0.6" stroke-opacity="0.8"/>
<line x1="399.60" y1="307.20" x2="432.40" y2="307.20" stroke="rgb(255,215,0)" stroke-opacity="0.85" stroke-width="3"/>
<polygon points="445.3,288.3 442.3,288.3 441.7,289.1 441.4,290.1 441.5,291.1 442.1,292.3 443.0,293.6 445.3,296.1 445.3,314.1 445.2,314.3 444.0,316.3 443.3,318.1 442.8,319.6 442.7,320.6 442.9,321.6 443.3,322.3 445.3,324.6 445.3,344.6 443.0,347.1 441.9,348.6 441.6,349.3 441.3,350.3 441.1,352.3 441.2,354.3 441.8,356.6 442.5,358.6 444.6,363.1 445.0,364.3 445.2,365.6 445.2,367.6 444.6,371.1 444.3,373.3 444.3,375.1 444.4,378.8 444.1,381.6 444.2,382.3 444.3,382.8 444.6,383.3 445.3,384.1 445.3,388.9" fill="rgb(255,0,0)" fill-opacity="0.76"/>
<polygon points="445.3,288.3 445.3,296.1 447.2,298.3 447.9,299.3 448.4,300.3 448.8,301.3 449.0,302.6 449.2,305.3 449.0,307.8 448.5,309.6 447.6,311.1 445.6,313.8 445.3,314.3 445.3,324.3 445.3,324.6 446.2,325.6 447.0,326.8 447.9,328.8 448.3,330.1 448.6,331.6 448.8,333.1 448.9,334.6 448.6,337.6 448.4,339.1 448.0,340.3 447.6,341.3 447.1,342.3 446.4,343.3 445.3,344.6 445.3,344.8 445.3,383.8 445.3,384.1 445.7,384.3 448.7,386.3 449.1,386.8 449.4,387.3 449.2,387.8 449.0,388.1 448.2,388.6 447.6,388.8 447.3,388.9 445.3,388.9" fill="rgb(12,12,200)" fill-opacity="0.8"/>
<polyline points="442.3,288.3 441.7,289.1 441.4,289.8 441.4,290.6 441.7,291.6 442.1,292.3 442.8,293.3 446.4,297.3 447.9,299.3 448.4,300.3 448.8,301.3 449.0,302.6 449.1,303.8 449.1,307.1 448.9,308.3 448.6,309.3 447.8,310.8 445.4,314.1 444.3,315.8 443.1,318.6 442.8,319.6 442.7,320.3 442.8,321.3 443.1,322.1 443.7,322.8 445.8,325.1 446.5,326.1 447.4,327.6 448.1,329.3 448.6,331.3 448.8,333.6 448.8,335.8 448.5,338.3 448.0,340.6 447.1,342.3 445.8,344.1 442.8,347.3 441.9,348.6 441.6,349.3 441.3,350.3 441.1,352.1 441.2,354.3 441.8,356.6 442.5,358.6 444.6,363.1 445.0,364.6 445.3,365.8 445.2,367.6 444.6,371.3 444.3,373.6 444.4,378.6 444.1,381.3 444.2,382.3 444.5,383.1 445.1,383.8 445.7,384.3 448.7,386.3 449.1,386.8 449.4,387.3 449.2,387.8 449.0,388.1 448.2,388.6 447.3,388.9" fill="none" stroke="rgb(90,90,120)" stroke-width="0.6" stroke-opacity="0.8"/>
<line x1="428.60" y1="334.90" x2="461.60" y2="334.90" stroke="rgb(255,215,0)" stroke-opacity="0.85" stroke-width="3"/>
<polygon points="458.6,288.3 456.2,288.3 455.5,289.1 455.3,289.8 455.4,290.3 455.8,291.1 457.9,293.3 458.4,294.1 458.6,294.8 458.6,295.3 458.4,295.8 457.9,296.6 457.1,297.3 452.7,300.8 451.6,301.8 450.5,303.1 449.7,304.3 449.1,305.6 448.7,306.8 448.5,308.3 448.6,309.6 449.0,311.1 449.6,312.3 450.4,313.8 452.4,316.6 457.8,322.8 458.6,323.8 458.6,324.1 458.6,361.8 458.3,364.6 458.0,369.6 458.1,371.6 458.6,374.3 458.6,378.1 458.1,379.1 457.4,380.1 454.1,383.6 453.1,384.8 452.4,386.1 452.2,387.3 452.3,388.1 452.6,388.9 458.6,388.9" fill="rgb(255,0,0)" fill-opacity="0.76"/>
<polygon points="458.6,288.3 458.6,323.8 461.8,328.3 463.6,331.3 464.2,332.6 464.6,333.8 464.8,335.1 464.9,336.6 464.8,338.8 464.1,345.3 463.6,348.1 463.1,350.6 462.6,352.6 461.9,354.3 459.4,359.8 458.6,362.1 458.6,374.1 458.9,376.3 458.9,377.1 458.6,378.1 458.6,388.9" fill="rgb(12,12,200)" fill-opacity="0.8"/>
<polyline points="456.2,288.3 455.7,288.8 455.4,289.3 455.3,289.8 455.4,290.3 456.0,291.3 457.9,293.3 458.4,294.1 458.7,294.8 458.5,295.6 458.1,296.3 457.4,297.1 452.4,301.1 451.2,302.3 450.2,303.6 449.3,305.1 448.7,306.6 448.5,308.1 448.6,309.6 448.9,310.6 449.3,311.8 450.0,313.1 450.9,314.6 452.9,317.1 459.2,324.6 461.2,327.3 462.9,330.1 463.9,331.8 464.5,333.6 464.9,335.3 464.9,337.1 464.0,345.6 463.6,348.3 463.1,350.6 462.6,352.6 461.8,354.6 459.1,360.6 458.6,362.1 458.4,363.3 458.0,367.8 458.0,370.1 458.2,372.1 458.9,375.6 458.9,376.6 458.8,377.6 458.4,378.6 457.6,379.8 453.9,383.8 452.7,385.6 452.3,386.6 452.2,387.3 452.3,388.1 452.6,388.9" fill="none" stroke="rgb(90,90,120)" stroke-width="0.6" stroke-opacity="0.8"/>
<line x1="442.30" y1="345.60" x2="475.30" y2="345.60" stroke="rgb(255,215,0)" stroke-opacity="0.85" stroke-width="3"/>
<polygon points="463.2,288.3 455.7,288.3 457.0,289.6 458.0,291.1 458.6,292.3 459.7,295.3 460.5,296.8 461.5,298.1 463.2,299.6 463.2,320.3 462.2,321.3 461.4,322.3 459.2,325.6 458.7,326.6 458.3,327.6 458.1,328.3 458.1,329.1 458.3,330.3 459.2,331.8 460.3,333.1 463.2,336.1 463.2,380.3 463.1,380.6 462.2,381.1 455.1,384.1 452.7,385.3 451.4,386.3 450.7,387.1 450.3,387.8 450.2,388.6 450.2,388.9 463.2,388.9" fill="rgb(255,0,0)" fill-opacity="0.76"/>
<polygon points="463.2,288.3 463.2,299.3 463.3,299.6 464.8,300.6 470.1,303.6 472.6,305.3 474.0,306.6 474.8,307.6 475.2,308.6 475.4,309.6 475.3,310.3 474.8,311.3 474.2,312.1 473.2,313.1 471.0,314.8 465.1,318.8 463.2,320.3 463.3,336.1 464.8,338.1 466.3,340.6 471.1,351.8 472.1,354.6 472.7,357.1 473.1,359.8 473.3,362.3 473.2,364.3 472.8,366.1 472.3,367.8 471.5,369.6 470.3,371.3 467.0,375.8 465.2,378.8 464.5,379.6 463.2,380.6 463.2,388.9" fill="rgb(12,12,200)" fill-opacity="0.8"/>
<polyline points="455.7,288.3 457.0,289.6 457.9,290.8 458.5,292.1 459.9,295.8 460.7,297.1 461.5,298.1 462.6,299.1 464.0,300.1 469.7,303.3 472.3,305.1 473.5,306.1 474.4,307.1 475.0,308.1 475.3,308.8 475.4,309.8 475.1,310.8 474.4,311.8 473.5,312.8 471.0,314.8 464.7,319.1 463.2,320.3 462.0,321.6 460.7,323.3 458.9,326.1 458.3,327.6 458.1,328.8 458.2,330.1 458.8,331.3 460.0,332.8 463.0,335.8 464.3,337.3 465.6,339.3 466.9,341.8 470.8,351.1 472.1,354.6 472.6,356.8 473.0,359.1 473.2,361.3 473.2,363.3 473.1,365.1 472.7,366.6 472.2,368.1 471.6,369.3 470.3,371.3 467.0,375.8 465.5,378.3 464.7,379.3 463.5,380.3 462.2,381.1 455.1,384.1 453.6,384.8 452.3,385.6 451.1,386.6 450.5,387.3 450.2,388.1 450.2,388.9" fill="none" stroke="rgb(90,90,120)" stroke-width="0.6" stroke-opacity="0.8"/>
<line x1="447.00" y1="355.20" x2="480.00" y2="355.20" stroke="rgb(255,215,0)" stroke-opacity="0.85" stroke-width="3"/>
<polygon points="486.9,288.3 481.9,288.3 486.8,291.1 486.9,291.3 486.9,305.8 486.6,306.1 479.7,309.6 477.0,311.3 475.6,312.6 474.8,313.6 474.3,314.6 474.1,315.6 474.3,316.8 475.0,318.3 475.9,319.6 479.3,323.8 481.4,327.1 482.7,329.6 484.9,334.8 485.8,336.3 486.9,337.8 486.9,364.1 480.1,369.8 478.0,371.8 477.2,372.8 476.5,373.8 476.1,374.8 475.9,375.8 476.0,376.6 476.3,377.6 476.8,378.6 477.8,379.8 479.2,381.3 482.6,384.6 484.1,386.1 485.2,387.6 485.9,388.9 486.9,388.9" fill="rgb(255,0,0)" fill-opacity="0.76"/>
<polygon points="486.9,288.3 486.9,291.1 491.2,293.8 494.6,296.3 495.4,297.1 496.0,297.8 496.3,298.6 496.4,299.1 496.3,299.6 496.0,300.1 495.5,300.6 494.6,301.3 490.2,304.1 487.1,305.8 486.9,306.1 486.9,337.8 488.1,339.1 489.4,340.3 495.5,345.3 497.3,347.1 498.2,348.1 498.8,349.1 499.2,350.1 499.3,350.8 499.1,351.6 498.8,352.3 497.7,353.8 496.4,355.1 492.0,358.8 486.9,364.1 486.9,388.9" fill="rgb(12,12,200)" fill-opacity="0.8"/>
<polyline points="481.9,288.3 488.9,292.3 491.2,293.8 493.6,295.6 494.9,296.6 495.8,297.6 496.3,298.6 496.3,299.3 496.2,299.8 495.5,300.6 494.6,301.3 493.5,302.1 487.6,305.6 479.7,309.6 477.0,311.3 475.3,312.8 474.5,314.1 474.1,315.3 474.2,316.6 474.6,317.6 475.3,318.8 479.1,323.6 481.3,326.8 482.7,329.6 484.8,334.6 485.5,335.8 486.3,337.1 487.6,338.6 489.1,340.1 495.5,345.3 497.3,347.1 498.2,348.1 498.7,348.8 499.1,349.8 499.3,350.6 499.2,351.3 498.9,352.1 498.5,352.8 497.7,353.8 496.4,355.1 492.0,358.8 486.6,364.3 480.7,369.3 478.8,371.1 477.0,373.1 476.4,374.1 476.1,374.8 475.9,375.8 476.0,376.8 476.4,377.8 477.0,378.8 478.7,380.8 482.6,384.6 484.1,386.1 485.2,387.6 485.9,388.9" fill="none" stroke="rgb(90,90,120)" stroke-width="0.6" stroke-opacity="0.8"/>
<line x1="470.50" y1="350.70" x2="503.50" y2="350.70" stroke="rgb(255,215,0)" stroke-opacity="0.85" stroke-width="3"/>
<polygon points="525.8,288.3 525.8,296.1 522.7,299.8 517.7,305.3 516.2,307.1 515.6,308.1 515.1,309.1 514.8,310.1 514.7,311.1 514.8,312.1 515.1,312.8 515.7,313.8 516.8,315.1 518.2,316.6 522.3,320.3 525.8,323.1 525.8,343.8 525.5,344.1 522.7,345.8 519.7,347.8 517.0,349.8 515.0,351.6 513.5,353.1 512.6,354.3 512.0,355.6 511.7,356.8 511.9,357.8 512.3,358.8 513.0,359.8 514.0,360.8 516.2,362.8 523.0,368.1 524.6,369.6 525.7,370.8 525.8,371.1 525.8,388.9" fill="rgb(255,0,0)" fill-opacity="0.76"/>
<polygon points="525.8,288.3 527.8,288.3 528.3,289.3 528.5,290.6 528.3,291.6 527.9,292.8 527.2,294.1 525.8,296.1 525.8,322.8 525.9,323.1 528.8,324.8 536.3,328.8 538.7,330.3 540.0,331.3 540.7,332.1 541.2,332.8 541.3,333.6 541.1,334.3 540.6,335.1 539.9,335.8 538.5,336.8 535.6,338.6 526.4,343.6 526.0,343.8 525.8,344.1 525.8,370.8 526.5,372.1 527.1,373.3 528.8,379.6 529.6,381.6 531.2,384.8 531.5,385.8 531.7,386.8 531.5,387.8 530.8,388.9 525.8,388.9" fill="rgb(12,12,200)" fill-opacity="0.8"/>
<polyline points="527.8,288.3 528.3,289.3 528.5,290.6 528.3,291.8 527.6,293.3 526.5,295.1 524.2,298.1 521.6,301.1 517.5,305.6 516.1,307.3 515.3,308.6 514.8,309.8 514.7,311.1 514.8,312.1 515.1,312.8 515.5,313.6 516.8,315.1 518.8,317.1 523.2,321.1 525.1,322.6 527.1,323.8 536.3,328.8 538.7,330.3 540.0,331.3 540.7,332.1 541.2,333.1 541.3,333.8 541.0,334.6 540.4,335.3 539.6,336.1 538.2,337.1 535.6,338.6 528.2,342.6 524.7,344.6 521.1,346.8 517.7,349.3 515.0,351.6 513.1,353.6 512.4,354.6 512.0,355.3 511.8,356.1 511.7,356.8 511.8,357.6 512.2,358.6 512.9,359.6 513.7,360.6 515.9,362.6 521.2,366.6 523.3,368.3 525.1,370.1 526.2,371.6 526.8,372.6 527.2,373.8 528.3,378.1 529.0,380.1 529.7,381.8 531.1,384.6 531.5,385.6 531.7,386.6 531.6,387.3 531.4,388.1 530.8,388.9" fill="none" stroke="rgb(90,90,120)" stroke-width="0.6" stroke-opacity="0.8"/>
<line x1="509.80" y1="334.10" x2="542.60" y2="334.10" stroke="rgb(255,215,0)" stroke-opacity="0.85" stroke-width="3"/>
<polygon points="549.5,288.3 548.5,288.3 548.3,288.6 547.6,289.6 547.4,290.1 547.3,290.8 547.4,291.6 547.6,292.3 548.9,295.6 549.3,297.8 549.5,298.6 549.5,340.1 549.1,341.1 548.3,342.3 544.6,346.8 543.3,348.8 542.7,350.1 542.3,351.3 542.1,352.6 542.0,353.6 542.1,354.6 542.3,355.6 543.1,357.6 545.7,362.3 548.0,367.1 549.5,369.8 549.5,374.1 547.5,376.6 546.5,378.1 545.9,379.6 545.7,381.3 545.8,382.6 546.0,383.8 547.5,388.9 549.5,388.9" fill="rgb(255,0,0)" fill-opacity="0.76"/>
<polygon points="549.5,288.3 549.5,298.6 550.2,299.6 551.2,300.6 555.6,304.1 557.4,305.8 558.2,306.8 558.6,307.6 558.9,308.3 558.9,309.1 558.9,309.6 558.6,310.3 557.8,311.6 556.7,312.8 553.7,315.8 552.0,318.1 551.1,319.8 550.8,320.8 550.6,321.8 550.5,323.6 550.6,329.3 550.5,333.1 550.0,337.8 549.8,339.1 549.5,340.3 549.5,369.6 550.3,371.1 550.5,371.6 550.5,372.1 550.3,372.8 549.5,374.1 549.5,388.9" fill="rgb(12,12,200)" fill-opacity="0.8"/>
<polyline points="548.5,288.3 548.0,288.8 547.6,289.6 547.4,290.3 547.3,291.1 547.6,292.3 548.9,295.6 549.3,297.8 549.5,298.6 550.2,299.6 551.2,300.6 555.6,304.1 557.4,305.8 558.2,306.8 558.6,307.6 558.9,308.3 558.9,309.1 558.7,310.1 558.0,311.3 557.0,312.6 554.4,315.1 553.1,316.6 551.8,318.3 551.1,319.8 550.7,321.1 550.5,322.6 550.6,329.3 550.5,332.6 550.2,336.3 549.7,339.6 549.2,340.8 548.5,342.1 544.8,346.6 543.6,348.3 542.6,350.3 542.1,352.3 542.0,353.6 542.1,354.6 542.4,355.8 542.9,357.1 543.7,358.8 545.8,362.6 548.3,367.6 550.2,370.8 550.5,371.8 550.4,372.6 550.0,373.3 547.5,376.6 546.6,377.8 546.1,378.8 545.8,380.1 545.7,381.6 545.9,383.3 547.5,388.9" fill="none" stroke="rgb(90,90,120)" stroke-width="0.6" stroke-opacity="0.8"/>
<line x1="532.90" y1="310.00" x2="566.30" y2="310.00" stroke="rgb(255,215,0)" stroke-opacity="0.85" stroke-width="3"/>
<polygon points="612.7,288.3 612.7,308.3 609.4,311.8 608.1,313.3 607.3,314.8 607.1,316.1 607.2,316.8 607.4,317.6 608.3,319.1 609.5,320.6 612.7,324.3 612.7,353.6 612.6,353.8 612.2,354.3 608.7,358.1 607.3,359.8 606.6,360.8 606.2,361.8 605.9,362.8 605.8,363.6 605.8,364.3 606.1,365.3 607.0,367.3 610.4,372.6 612.7,375.8 612.7,388.9" fill="rgb(255,0,0)" fill-opacity="0.76"/>
<polygon points="612.7,288.3 619.7,288.3 620.6,289.6 621.0,290.3 621.2,291.1 621.3,292.1 621.2,293.1 620.9,294.3 620.3,295.6 617.5,300.3 614.8,305.3 613.9,306.8 612.7,308.3 612.7,324.3 614.5,326.1 618.8,330.1 621.0,332.6 621.9,333.8 622.6,335.1 622.9,336.3 623.0,337.3 623.0,338.1 622.7,339.1 621.8,340.8 618.3,345.6 614.9,350.8 612.7,353.8 612.7,375.8 617.5,381.8 619.2,384.1 620.7,386.6 621.3,387.8 621.7,388.9 612.7,388.9" fill="rgb(12,12,200)" fill-opacity="0.8"/>
<polyline points="619.7,288.3 620.3,289.1 620.8,289.8 621.1,290.6 621.3,291.3 621.3,292.1 621.2,293.1 621.0,294.1 620.6,295.1 619.8,296.6 617.4,300.6 615.1,304.8 614.0,306.6 612.5,308.6 608.9,312.3 607.8,313.8 607.2,315.1 607.1,316.3 607.3,317.3 607.8,318.3 608.5,319.3 609.7,320.8 612.9,324.6 619.0,330.3 620.4,331.8 621.4,333.1 622.2,334.3 622.7,335.6 623.0,336.8 623.0,338.1 622.6,339.3 621.8,340.8 618.1,345.8 614.2,351.8 612.4,354.1 608.4,358.3 607.1,360.1 606.5,361.1 606.1,362.1 605.8,363.1 605.8,363.8 605.9,364.8 606.2,365.8 606.8,367.1 607.6,368.3 612.3,375.3 617.5,381.8 619.2,384.1 620.7,386.6 621.3,387.8 621.7,388.9" fill="none" stroke="rgb(90,90,120)" stroke-width="0.6" stroke-opacity="0.8"/>
<line x1="596.00" y1="339.00" x2="629.20" y2="339.00" stroke="rgb(255,215,0)" stroke-opacity="0.85" stroke-width="3"/>
<line x1="60.3" y1="217.10" x2="668.0" y2="217.10" stroke="#333" stroke-width="1.7" stroke-dasharray="9,3.87" stroke-dashoffset="0.4"/>
<line x1="60.3" y1="338.60" x2="668.0" y2="338.60" stroke="#333" stroke-width="1.7" stroke-dasharray="9,3.87" stroke-dashoffset="0.4"/>
<rect x="60.30" y="25.00" width="607.70" height="101.00" fill="none" stroke="#000" stroke-width="2"/>
<rect x="60.30" y="166.80" width="607.70" height="100.60" fill="none" stroke="#000" stroke-width="2"/>
<rect x="60.30" y="288.30" width="607.70" height="100.60" fill="none" stroke="#000" stroke-width="2"/>
<text x="365.00" y="17.80" font-family='"Liberation Serif", serif' font-size="24" text-anchor="middle" >Réunion</text>
<text x="43.50" y="134.20" font-family='"Liberation Sans", sans-serif' font-size="17.5" text-anchor="end">10</text>
<text x="44.00" y="127.40" font-family='"Liberation Sans", sans-serif' font-size="11.6" text-anchor="start">0</text>
<text x="43.50" y="105.00" font-family='"Liberation Sans", sans-serif' font-size="17.5" text-anchor="end">10</text>
<text x="44.00" y="98.20" font-family='"Liberation Sans", sans-serif' font-size="11.6" text-anchor="start">1</text>
<text x="43.50" y="75.80" font-family='"Liberation Sans", sans-serif' font-size="17.5" text-anchor="end">10</text>
<text x="44.00" y="69.00" font-family='"Liberation Sans", sans-serif' font-size="11.6" text-anchor="start">2</text>
<text x="43.50" y="46.60" font-family='"Liberation Sans", sans-serif' font-size="17.5" text-anchor="end">10</text>
<text x="44.00" y="39.80" font-family='"Liberation Sans", sans-serif' font-size="11.6" text-anchor="start">3</text>
<text x="50.30" y="182.48" font-family='"Liberation Sans", sans-serif' font-size="17.5" text-anchor="end" >360</text>
<text x="50.30" y="216.02" font-family='"Liberation Sans", sans-serif' font-size="17.5" text-anchor="end" >400</text>
<text x="50.30" y="249.55" font-family='"Liberation Sans", sans-serif' font-size="17.5" text-anchor="end" >440</text>
<text x="50.30" y="295.60" font-family='"Liberation Sans", sans-serif' font-size="17.5" text-anchor="end" >600</text>
<text x="50.30" y="329.13" font-family='"Liberation Sans", sans-serif' font-size="17.5" text-anchor="end" >640</text>
<text x="50.30" y="362.67" font-family='"Liberation Sans", sans-serif' font-size="17.5" text-anchor="end" >680</text>
<text x="50.30" y="396.20" font-family='"Liberation Sans", sans-serif' font-size="17.5" text-anchor="end" >720</text>
<text x="60.30" y="412.30" font-family='"Liberation Sans", sans-serif' font-size="17.5" text-anchor="middle" >0.0</text>
<text x="136.26" y="412.30" font-family='"Liberation Sans", sans-serif' font-size="17.5" text-anchor="middle" >2.5</text>
<text x="212.23" y="412.30" font-family='"Liberation Sans", sans-serif' font-size="17.5" text-anchor="middle" >5.0</text>
<text x="288.19" y="412.30" font-family='"Liberation Sans", sans-serif' font-size="17.5" text-anchor="middle" >7.5</text>
<text x="364.15" y="412.30" font-family='"Liberation Sans", sans-serif' font-size="17.5" text-anchor="middle" >10.0</text>
<text x="440.11" y="412.30" font-family='"Liberation Sans", sans-serif' font-size="17.5" text-anchor="middle" >12.5</text>
<text x="516.07" y="412.30" font-family='"Liberation Sans", sans-serif' font-size="17.5" text-anchor="middle" >15.0</text>
<text x="592.04" y="412.30" font-family='"Liberation Sans", sans-serif' font-size="17.5" text-anchor="middle" >17.5</text>
<text x="668.00" y="412.30" font-family='"Liberation Sans", sans-serif' font-size="17.5" text-anchor="middle" >20.0</text>
<text x="364.75" y="432.60" font-family='"Liberation Serif", serif' font-size="19.1" text-anchor="middle" >Distance from A (°)</text>
<text x="0" y="0" transform="translate(15.80,73.70) rotate(-90)" font-family='"Liberation Serif", serif' font-size="19" text-anchor="middle">No. of RFs</text>
<text x="0" y="0" transform="translate(14.20,215.80) rotate(-90)" font-family='"Liberation Serif", serif' font-size="19" text-anchor="middle">Depth (km)</text>
<text x="0" y="0" transform="translate(14.20,338.50) rotate(-90)" font-family='"Liberation Serif", serif' font-size="19" text-anchor="middle">Depth (km)</text>
<text x="66.20" y="114.80" font-family='"Liberation Serif", serif' font-size="22.5" text-anchor="start" >(a)</text>
<text x="66.20" y="256.60" font-family='"Liberation Serif", serif' font-size="22.5" text-anchor="start" >(b)</text>
<text x="66.20" y="377.70" font-family='"Liberation Serif", serif' font-size="22.5" text-anchor="start" >(c)</text>
</svg></body></html>
